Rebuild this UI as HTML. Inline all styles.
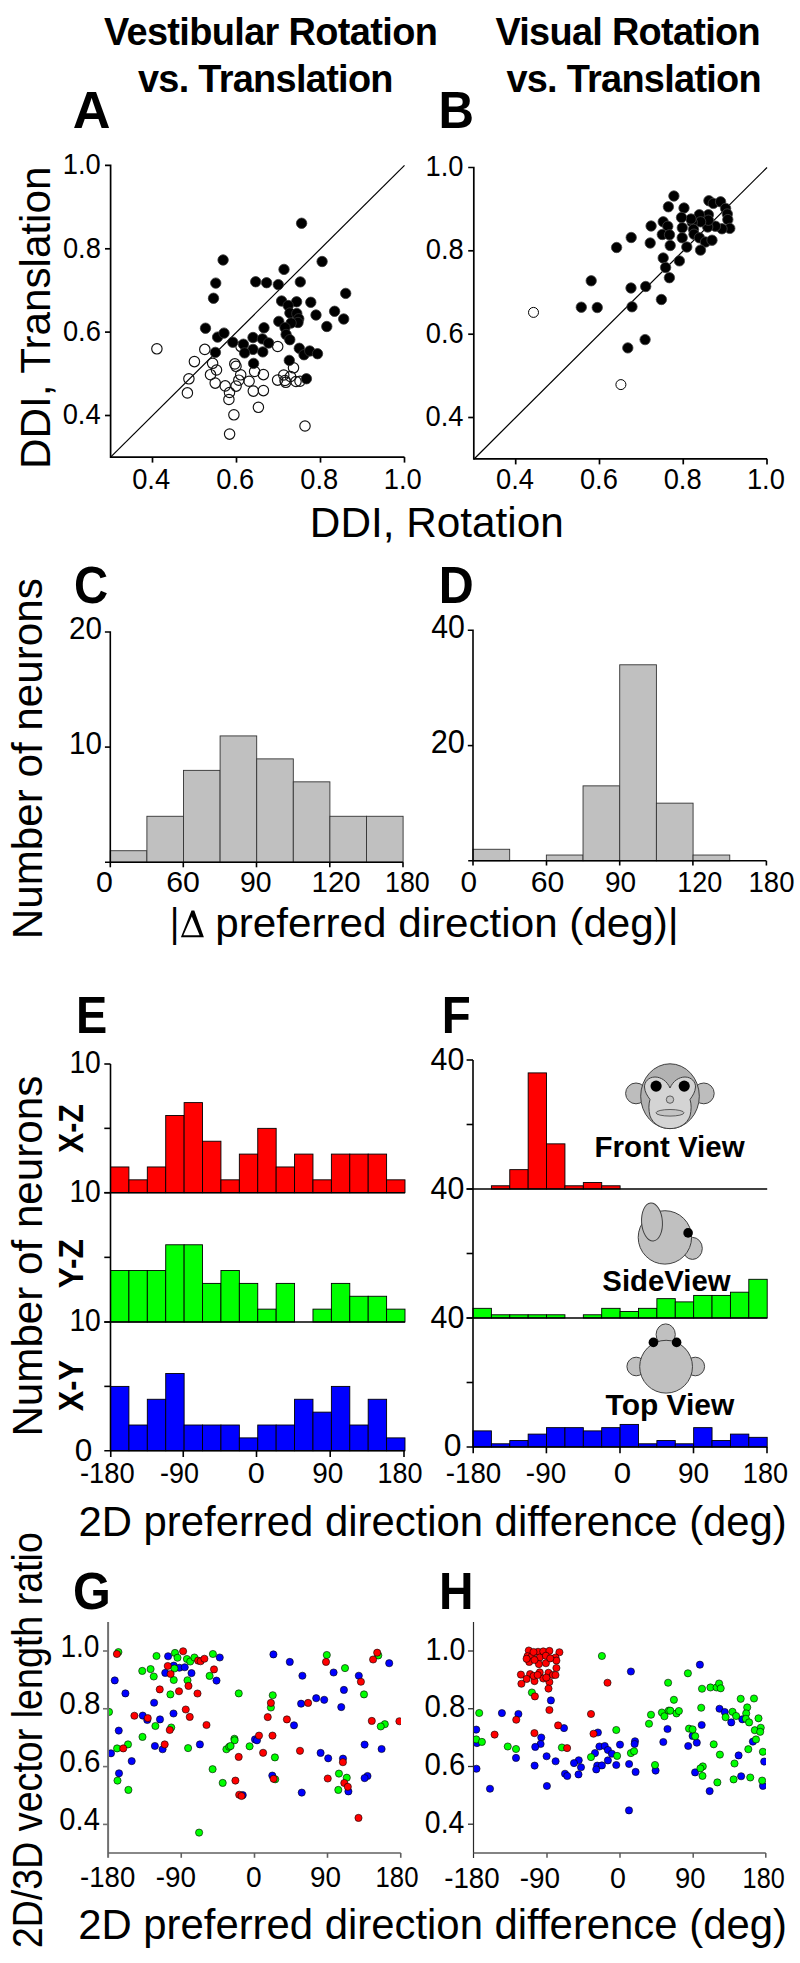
<!DOCTYPE html>
<html><head><meta charset="utf-8"><style>
html,body{margin:0;padding:0;background:#fff;}
svg{display:block;}
text{font-family:"Liberation Sans",sans-serif;}
</style></head><body>
<svg width="800" height="1963" viewBox="0 0 800 1963">
<rect width="800" height="1963" fill="#fff"/>
<text transform="translate(103.91,45.25) scale(0.9600,1)" font-family="Liberation Sans" font-weight="bold" font-size="39.5" letter-spacing="-0.665" fill="#000">Vestibular Rotation</text>
<text transform="translate(137.91,91.5) scale(0.9600,1)" font-family="Liberation Sans" font-weight="bold" font-size="39.5" letter-spacing="-0.731" fill="#000">vs. Translation</text>
<text transform="translate(495.41,45.25) scale(0.9600,1)" font-family="Liberation Sans" font-weight="bold" font-size="39.5" letter-spacing="-0.739" fill="#000">Visual Rotation</text>
<text transform="translate(506.41,91.5) scale(0.9600,1)" font-family="Liberation Sans" font-weight="bold" font-size="39.5" letter-spacing="-0.757" fill="#000">vs. Translation</text>
<text transform="translate(72.69,128.2) scale(1.0183,1)" font-family="Liberation Sans" font-weight="bold" font-size="51.3" fill="#000">A</text>
<text transform="translate(438.6,128.2) scale(0.9587,1)" font-family="Liberation Sans" font-weight="bold" font-size="51.3" fill="#000">B</text>
<text transform="translate(74.11,603.3) scale(0.9226,1)" font-family="Liberation Sans" font-weight="bold" font-size="51.3" fill="#000">C</text>
<text transform="translate(438.85,603.2) scale(0.9445,1)" font-family="Liberation Sans" font-weight="bold" font-size="51.3" fill="#000">D</text>
<text transform="translate(75.95,1033.2) scale(0.9143,1)" font-family="Liberation Sans" font-weight="bold" font-size="51.3" fill="#000">E</text>
<text transform="translate(441.72,1033.2) scale(0.9250,1)" font-family="Liberation Sans" font-weight="bold" font-size="51.3" fill="#000">F</text>
<text transform="translate(73.06,1608.6) scale(0.9472,1)" font-family="Liberation Sans" font-weight="bold" font-size="51.3" fill="#000">G</text>
<text transform="translate(438.89,1608.7) scale(0.9317,1)" font-family="Liberation Sans" font-weight="bold" font-size="51.3" fill="#000">H</text>
<path d="M105.0,165.4H110.6V457.1H404.5" stroke="#000" stroke-width="1.7" fill="none" fill-rule="evenodd"/>
<line x1="105" y1="248.8" x2="110.6" y2="248.8" stroke="#000" stroke-width="1.7"/>
<line x1="105" y1="332.1" x2="110.6" y2="332.1" stroke="#000" stroke-width="1.7"/>
<line x1="105" y1="415.5" x2="110.6" y2="415.5" stroke="#000" stroke-width="1.7"/>
<line x1="152.5" y1="457.1" x2="152.5" y2="462.6" stroke="#000" stroke-width="1.7"/>
<line x1="236.5" y1="457.1" x2="236.5" y2="462.6" stroke="#000" stroke-width="1.7"/>
<line x1="320.5" y1="457.1" x2="320.5" y2="462.6" stroke="#000" stroke-width="1.7"/>
<line x1="404.5" y1="457.1" x2="404.5" y2="462.6" stroke="#000" stroke-width="1.7"/>
<line x1="110.6" y1="457.1" x2="404.5" y2="165.4" stroke="#000" stroke-width="1.2"/>
<text transform="translate(62.81,174.1) scale(0.9100,1)" font-family="Liberation Sans" font-weight="normal" font-size="30" fill="#000">1.0</text>
<text transform="translate(62.94,257.5) scale(0.9100,1)" font-family="Liberation Sans" font-weight="normal" font-size="30" fill="#000">0.8</text>
<text transform="translate(62.94,340.8) scale(0.9100,1)" font-family="Liberation Sans" font-weight="normal" font-size="30" fill="#000">0.6</text>
<text transform="translate(62.67,424.2) scale(0.9100,1)" font-family="Liberation Sans" font-weight="normal" font-size="30" fill="#000">0.4</text>
<text transform="translate(132.19,489) scale(0.9100,1)" font-family="Liberation Sans" font-weight="normal" font-size="30" fill="#000">0.4</text>
<text transform="translate(216.33,489) scale(0.9100,1)" font-family="Liberation Sans" font-weight="normal" font-size="30" fill="#000">0.6</text>
<text transform="translate(300.33,489) scale(0.9100,1)" font-family="Liberation Sans" font-weight="normal" font-size="30" fill="#000">0.8</text>
<text transform="translate(383.78,489) scale(0.9100,1)" font-family="Liberation Sans" font-weight="normal" font-size="30" fill="#000">1.0</text>
<circle cx="156.9" cy="348.8" r="5.2" fill="none" stroke="#111" stroke-width="1.15"/>
<circle cx="204.8" cy="349.4" r="5.2" fill="none" stroke="#111" stroke-width="1.15"/>
<circle cx="194.4" cy="361.6" r="5.2" fill="none" stroke="#111" stroke-width="1.15"/>
<circle cx="212.6" cy="363.3" r="5.2" fill="none" stroke="#111" stroke-width="1.15"/>
<circle cx="216.5" cy="370" r="5.2" fill="none" stroke="#111" stroke-width="1.15"/>
<circle cx="210.5" cy="374.7" r="5.2" fill="none" stroke="#111" stroke-width="1.15"/>
<circle cx="188.9" cy="378.8" r="5.2" fill="none" stroke="#111" stroke-width="1.15"/>
<circle cx="215.2" cy="383.1" r="5.2" fill="none" stroke="#111" stroke-width="1.15"/>
<circle cx="187.4" cy="392.9" r="5.2" fill="none" stroke="#111" stroke-width="1.15"/>
<circle cx="234.8" cy="363.9" r="5.2" fill="none" stroke="#111" stroke-width="1.15"/>
<circle cx="236" cy="366.3" r="5.2" fill="none" stroke="#111" stroke-width="1.15"/>
<circle cx="240.7" cy="374.8" r="5.2" fill="none" stroke="#111" stroke-width="1.15"/>
<circle cx="238.8" cy="380.2" r="5.2" fill="none" stroke="#111" stroke-width="1.15"/>
<circle cx="236.1" cy="386.1" r="5.2" fill="none" stroke="#111" stroke-width="1.15"/>
<circle cx="225.2" cy="385.9" r="5.2" fill="none" stroke="#111" stroke-width="1.15"/>
<circle cx="229.5" cy="392.5" r="5.2" fill="none" stroke="#111" stroke-width="1.15"/>
<circle cx="228.9" cy="399.5" r="5.2" fill="none" stroke="#111" stroke-width="1.15"/>
<circle cx="233.9" cy="414.8" r="5.2" fill="none" stroke="#111" stroke-width="1.15"/>
<circle cx="229.6" cy="434.1" r="5.2" fill="none" stroke="#111" stroke-width="1.15"/>
<circle cx="249.1" cy="381.25" r="5.2" fill="none" stroke="#111" stroke-width="1.15"/>
<circle cx="254.6" cy="371.5" r="5.2" fill="none" stroke="#111" stroke-width="1.15"/>
<circle cx="263.4" cy="374.6" r="5.2" fill="none" stroke="#111" stroke-width="1.15"/>
<circle cx="253.3" cy="391.1" r="5.2" fill="none" stroke="#111" stroke-width="1.15"/>
<circle cx="263.4" cy="390.6" r="5.2" fill="none" stroke="#111" stroke-width="1.15"/>
<circle cx="258.4" cy="407.3" r="5.2" fill="none" stroke="#111" stroke-width="1.15"/>
<circle cx="277.7" cy="346.5" r="5.2" fill="none" stroke="#111" stroke-width="1.15"/>
<circle cx="293.5" cy="367.8" r="5.2" fill="none" stroke="#111" stroke-width="1.15"/>
<circle cx="277.6" cy="380.1" r="5.2" fill="none" stroke="#111" stroke-width="1.15"/>
<circle cx="283.75" cy="375" r="5.2" fill="none" stroke="#111" stroke-width="1.15"/>
<circle cx="285" cy="380.5" r="5.2" fill="none" stroke="#111" stroke-width="1.15"/>
<circle cx="285.8" cy="382.3" r="5.2" fill="none" stroke="#111" stroke-width="1.15"/>
<circle cx="290.5" cy="376.5" r="5.2" fill="none" stroke="#111" stroke-width="1.15"/>
<circle cx="296" cy="381.5" r="5.2" fill="none" stroke="#111" stroke-width="1.15"/>
<circle cx="300" cy="381.25" r="5.2" fill="none" stroke="#111" stroke-width="1.15"/>
<circle cx="305" cy="426" r="5.2" fill="none" stroke="#111" stroke-width="1.15"/>
<circle cx="241" cy="346.6" r="5.2" fill="none" stroke="#111" stroke-width="1.15"/>
<circle cx="223.1" cy="260.0" r="5.2" fill="#000" stroke="#333" stroke-width="0.8"/>
<circle cx="215.75" cy="283.1" r="5.2" fill="#000" stroke="#333" stroke-width="0.8"/>
<circle cx="213.5" cy="298.25" r="5.2" fill="#000" stroke="#333" stroke-width="0.8"/>
<circle cx="255.7" cy="281.75" r="5.2" fill="#000" stroke="#333" stroke-width="0.8"/>
<circle cx="266.6" cy="282.7" r="5.2" fill="#000" stroke="#333" stroke-width="0.8"/>
<circle cx="278.3" cy="284.6" r="5.2" fill="#000" stroke="#333" stroke-width="0.8"/>
<circle cx="284" cy="269.4" r="5.2" fill="#000" stroke="#333" stroke-width="0.8"/>
<circle cx="301.6" cy="223.25" r="5.2" fill="#000" stroke="#333" stroke-width="0.8"/>
<circle cx="322.1" cy="261.5" r="5.2" fill="#000" stroke="#333" stroke-width="0.8"/>
<circle cx="300.3" cy="281.9" r="5.2" fill="#000" stroke="#333" stroke-width="0.8"/>
<circle cx="345.7" cy="293.4" r="5.2" fill="#000" stroke="#333" stroke-width="0.8"/>
<circle cx="281.6" cy="301" r="5.2" fill="#000" stroke="#333" stroke-width="0.8"/>
<circle cx="296.6" cy="301.8" r="5.2" fill="#000" stroke="#333" stroke-width="0.8"/>
<circle cx="310.8" cy="302.3" r="5.2" fill="#000" stroke="#333" stroke-width="0.8"/>
<circle cx="288.2" cy="305.5" r="5.2" fill="#000" stroke="#333" stroke-width="0.8"/>
<circle cx="289.9" cy="313" r="5.2" fill="#000" stroke="#333" stroke-width="0.8"/>
<circle cx="296.8" cy="313.5" r="5.2" fill="#000" stroke="#333" stroke-width="0.8"/>
<circle cx="298.75" cy="318.75" r="5.2" fill="#000" stroke="#333" stroke-width="0.8"/>
<circle cx="298" cy="322.5" r="5.2" fill="#000" stroke="#333" stroke-width="0.8"/>
<circle cx="291.1" cy="323" r="5.2" fill="#000" stroke="#333" stroke-width="0.8"/>
<circle cx="316" cy="315" r="5.2" fill="#000" stroke="#333" stroke-width="0.8"/>
<circle cx="334.6" cy="311.3" r="5.2" fill="#000" stroke="#333" stroke-width="0.8"/>
<circle cx="343.7" cy="319" r="5.2" fill="#000" stroke="#333" stroke-width="0.8"/>
<circle cx="326.8" cy="326.5" r="5.2" fill="#000" stroke="#333" stroke-width="0.8"/>
<circle cx="278.8" cy="321.4" r="5.2" fill="#000" stroke="#333" stroke-width="0.8"/>
<circle cx="264" cy="327.8" r="5.2" fill="#000" stroke="#333" stroke-width="0.8"/>
<circle cx="285" cy="327.6" r="5.2" fill="#000" stroke="#333" stroke-width="0.8"/>
<circle cx="286.1" cy="334.5" r="5.2" fill="#000" stroke="#333" stroke-width="0.8"/>
<circle cx="289.8" cy="339.7" r="5.2" fill="#000" stroke="#333" stroke-width="0.8"/>
<circle cx="253" cy="337.5" r="5.2" fill="#000" stroke="#333" stroke-width="0.8"/>
<circle cx="262.4" cy="338.9" r="5.2" fill="#000" stroke="#333" stroke-width="0.8"/>
<circle cx="268.6" cy="343" r="5.2" fill="#000" stroke="#333" stroke-width="0.8"/>
<circle cx="253" cy="349.4" r="5.2" fill="#000" stroke="#333" stroke-width="0.8"/>
<circle cx="262.8" cy="351.9" r="5.2" fill="#000" stroke="#333" stroke-width="0.8"/>
<circle cx="299.3" cy="348.3" r="5.2" fill="#000" stroke="#333" stroke-width="0.8"/>
<circle cx="304" cy="354.75" r="5.2" fill="#000" stroke="#333" stroke-width="0.8"/>
<circle cx="309.7" cy="351" r="5.2" fill="#000" stroke="#333" stroke-width="0.8"/>
<circle cx="317.5" cy="353.7" r="5.2" fill="#000" stroke="#333" stroke-width="0.8"/>
<circle cx="289.3" cy="360.4" r="5.2" fill="#000" stroke="#333" stroke-width="0.8"/>
<circle cx="253.6" cy="363.4" r="5.2" fill="#000" stroke="#333" stroke-width="0.8"/>
<circle cx="306.4" cy="378.75" r="5.2" fill="#000" stroke="#333" stroke-width="0.8"/>
<circle cx="205.5" cy="328.2" r="5.2" fill="#000" stroke="#333" stroke-width="0.8"/>
<circle cx="217.6" cy="337.1" r="5.2" fill="#000" stroke="#333" stroke-width="0.8"/>
<circle cx="224" cy="333.1" r="5.2" fill="#000" stroke="#333" stroke-width="0.8"/>
<circle cx="232.8" cy="342.2" r="5.2" fill="#000" stroke="#333" stroke-width="0.8"/>
<circle cx="243.4" cy="344.2" r="5.2" fill="#000" stroke="#333" stroke-width="0.8"/>
<circle cx="244.6" cy="352.9" r="5.2" fill="#000" stroke="#333" stroke-width="0.8"/>
<circle cx="215.4" cy="352.4" r="5.2" fill="#000" stroke="#333" stroke-width="0.8"/>
<text transform="translate(49.75,468.97) rotate(-90) scale(0.9924,1)" font-family="Liberation Sans" font-weight="normal" font-size="42.5">DDI, Translation</text>
<text transform="translate(309.86,537.1) scale(0.9956,1)" font-family="Liberation Sans" font-weight="normal" font-size="42.5" fill="#000">DDI, Rotation</text>
<path d="M468.2,167.5H473.8V458.8H767" stroke="#000" stroke-width="1.7" fill="none" fill-rule="evenodd"/>
<line x1="468.2" y1="250.8" x2="473.8" y2="250.8" stroke="#000" stroke-width="1.7"/>
<line x1="468.2" y1="334.2" x2="473.8" y2="334.2" stroke="#000" stroke-width="1.7"/>
<line x1="468.2" y1="417.5" x2="473.8" y2="417.5" stroke="#000" stroke-width="1.7"/>
<line x1="515.7" y1="458.8" x2="515.7" y2="464.4" stroke="#000" stroke-width="1.7"/>
<line x1="599.5" y1="458.8" x2="599.5" y2="464.4" stroke="#000" stroke-width="1.7"/>
<line x1="683.25" y1="458.8" x2="683.25" y2="464.4" stroke="#000" stroke-width="1.7"/>
<line x1="767" y1="458.8" x2="767" y2="464.4" stroke="#000" stroke-width="1.7"/>
<line x1="473.8" y1="459.2" x2="767" y2="167.5" stroke="#000" stroke-width="1.2"/>
<text transform="translate(425.61,175.9) scale(0.9100,1)" font-family="Liberation Sans" font-weight="normal" font-size="30" fill="#000">1.0</text>
<text transform="translate(425.75,259.2) scale(0.9100,1)" font-family="Liberation Sans" font-weight="normal" font-size="30" fill="#000">0.8</text>
<text transform="translate(425.75,342.6) scale(0.9100,1)" font-family="Liberation Sans" font-weight="normal" font-size="30" fill="#000">0.6</text>
<text transform="translate(425.47,425.9) scale(0.9100,1)" font-family="Liberation Sans" font-weight="normal" font-size="30" fill="#000">0.4</text>
<text transform="translate(495.99,489.3) scale(0.9100,1)" font-family="Liberation Sans" font-weight="normal" font-size="30" fill="#000">0.4</text>
<text transform="translate(579.93,489.3) scale(0.9100,1)" font-family="Liberation Sans" font-weight="normal" font-size="30" fill="#000">0.6</text>
<text transform="translate(663.68,489.3) scale(0.9100,1)" font-family="Liberation Sans" font-weight="normal" font-size="30" fill="#000">0.8</text>
<text transform="translate(746.88,489.3) scale(0.9100,1)" font-family="Liberation Sans" font-weight="normal" font-size="30" fill="#000">1.0</text>
<circle cx="533.5" cy="312.4" r="5.0" fill="none" stroke="#000" stroke-width="1.0"/>
<circle cx="620.9" cy="384.6" r="5.0" fill="none" stroke="#000" stroke-width="1.0"/>
<circle cx="673.9" cy="196" r="5.2" fill="#000" stroke="#444" stroke-width="0.8"/>
<circle cx="668.4" cy="206.8" r="5.2" fill="#000" stroke="#444" stroke-width="0.8"/>
<circle cx="684" cy="208" r="5.2" fill="#000" stroke="#444" stroke-width="0.8"/>
<circle cx="708.9" cy="200.7" r="5.2" fill="#000" stroke="#444" stroke-width="0.8"/>
<circle cx="713.3" cy="203.4" r="5.2" fill="#000" stroke="#444" stroke-width="0.8"/>
<circle cx="720.6" cy="201.8" r="5.2" fill="#000" stroke="#444" stroke-width="0.8"/>
<circle cx="725.6" cy="208.4" r="5.2" fill="#000" stroke="#444" stroke-width="0.8"/>
<circle cx="727.3" cy="214" r="5.2" fill="#000" stroke="#444" stroke-width="0.8"/>
<circle cx="727.8" cy="219.6" r="5.2" fill="#000" stroke="#444" stroke-width="0.8"/>
<circle cx="729.8" cy="228.4" r="5.2" fill="#000" stroke="#444" stroke-width="0.8"/>
<circle cx="722" cy="228.8" r="5.2" fill="#000" stroke="#444" stroke-width="0.8"/>
<circle cx="715.4" cy="226.2" r="5.2" fill="#000" stroke="#444" stroke-width="0.8"/>
<circle cx="707.7" cy="227" r="5.2" fill="#000" stroke="#444" stroke-width="0.8"/>
<circle cx="708.4" cy="214.7" r="5.2" fill="#000" stroke="#444" stroke-width="0.8"/>
<circle cx="708.4" cy="220.2" r="5.2" fill="#000" stroke="#444" stroke-width="0.8"/>
<circle cx="699.3" cy="214.7" r="5.2" fill="#000" stroke="#444" stroke-width="0.8"/>
<circle cx="700.6" cy="221.8" r="5.2" fill="#000" stroke="#444" stroke-width="0.8"/>
<circle cx="692.2" cy="222.4" r="5.2" fill="#000" stroke="#444" stroke-width="0.8"/>
<circle cx="691" cy="219" r="5.2" fill="#000" stroke="#444" stroke-width="0.8"/>
<circle cx="681.5" cy="217.5" r="5.2" fill="#000" stroke="#444" stroke-width="0.8"/>
<circle cx="682.3" cy="227.8" r="5.2" fill="#000" stroke="#444" stroke-width="0.8"/>
<circle cx="682.2" cy="237.8" r="5.2" fill="#000" stroke="#444" stroke-width="0.8"/>
<circle cx="693.5" cy="229.4" r="5.2" fill="#000" stroke="#444" stroke-width="0.8"/>
<circle cx="694" cy="234.2" r="5.2" fill="#000" stroke="#444" stroke-width="0.8"/>
<circle cx="699.4" cy="237.8" r="5.2" fill="#000" stroke="#444" stroke-width="0.8"/>
<circle cx="705.5" cy="242" r="5.2" fill="#000" stroke="#444" stroke-width="0.8"/>
<circle cx="712" cy="240.2" r="5.2" fill="#000" stroke="#444" stroke-width="0.8"/>
<circle cx="700.5" cy="250.1" r="5.2" fill="#000" stroke="#444" stroke-width="0.8"/>
<circle cx="686.8" cy="247" r="5.2" fill="#000" stroke="#444" stroke-width="0.8"/>
<circle cx="663.2" cy="221.8" r="5.2" fill="#000" stroke="#444" stroke-width="0.8"/>
<circle cx="667.8" cy="226.3" r="5.2" fill="#000" stroke="#444" stroke-width="0.8"/>
<circle cx="662.3" cy="234.5" r="5.2" fill="#000" stroke="#444" stroke-width="0.8"/>
<circle cx="669.5" cy="234.8" r="5.2" fill="#000" stroke="#444" stroke-width="0.8"/>
<circle cx="670.2" cy="245.5" r="5.2" fill="#000" stroke="#444" stroke-width="0.8"/>
<circle cx="651.1" cy="226" r="5.2" fill="#000" stroke="#444" stroke-width="0.8"/>
<circle cx="650.2" cy="243" r="5.2" fill="#000" stroke="#444" stroke-width="0.8"/>
<circle cx="663.2" cy="258" r="5.2" fill="#000" stroke="#444" stroke-width="0.8"/>
<circle cx="665.6" cy="267.5" r="5.2" fill="#000" stroke="#444" stroke-width="0.8"/>
<circle cx="679.4" cy="260.9" r="5.2" fill="#000" stroke="#444" stroke-width="0.8"/>
<circle cx="669.4" cy="277.7" r="5.2" fill="#000" stroke="#444" stroke-width="0.8"/>
<circle cx="645.7" cy="286.5" r="5.2" fill="#000" stroke="#444" stroke-width="0.8"/>
<circle cx="661.4" cy="299.5" r="5.2" fill="#000" stroke="#444" stroke-width="0.8"/>
<circle cx="631.2" cy="237.5" r="5.2" fill="#000" stroke="#444" stroke-width="0.8"/>
<circle cx="616.6" cy="247.5" r="5.2" fill="#000" stroke="#444" stroke-width="0.8"/>
<circle cx="591.2" cy="280.8" r="5.2" fill="#000" stroke="#444" stroke-width="0.8"/>
<circle cx="581.3" cy="307.2" r="5.2" fill="#000" stroke="#444" stroke-width="0.8"/>
<circle cx="597.25" cy="307.55" r="5.2" fill="#000" stroke="#444" stroke-width="0.8"/>
<circle cx="631" cy="288" r="5.2" fill="#000" stroke="#444" stroke-width="0.8"/>
<circle cx="632" cy="306.8" r="5.2" fill="#000" stroke="#444" stroke-width="0.8"/>
<circle cx="645.1" cy="339.6" r="5.2" fill="#000" stroke="#444" stroke-width="0.8"/>
<circle cx="627.8" cy="347.9" r="5.2" fill="#000" stroke="#444" stroke-width="0.8"/>
<rect x="110.3" y="850.72" width="36.6" height="11.48" fill="#c0c0c0" stroke="#333" stroke-width="0.9"/>
<rect x="146.9" y="816.28" width="36.6" height="45.92" fill="#c0c0c0" stroke="#333" stroke-width="0.9"/>
<rect x="183.5" y="770.36" width="36.6" height="91.84" fill="#c0c0c0" stroke="#333" stroke-width="0.9"/>
<rect x="220.1" y="735.92" width="36.6" height="126.28" fill="#c0c0c0" stroke="#333" stroke-width="0.9"/>
<rect x="256.7" y="758.88" width="36.6" height="103.32" fill="#c0c0c0" stroke="#333" stroke-width="0.9"/>
<rect x="293.3" y="781.84" width="36.6" height="80.36" fill="#c0c0c0" stroke="#333" stroke-width="0.9"/>
<rect x="329.9" y="816.28" width="36.6" height="45.92" fill="#c0c0c0" stroke="#333" stroke-width="0.9"/>
<rect x="366.5" y="816.28" width="36.6" height="45.92" fill="#c0c0c0" stroke="#333" stroke-width="0.9"/>
<path d="M104.89999999999999,632H110.3V862.2" stroke="#000" stroke-width="1.6" fill="none" fill-rule="evenodd"/>
<line x1="104.9" y1="747.1" x2="110.3" y2="747.1" stroke="#000" stroke-width="1.6"/>
<line x1="105" y1="862.2" x2="403.1" y2="862.2" stroke="#000" stroke-width="1.6"/>
<line x1="110.3" y1="862.2" x2="110.3" y2="867.3" stroke="#000" stroke-width="1.6"/>
<line x1="183.3" y1="862.2" x2="183.3" y2="867.3" stroke="#000" stroke-width="1.6"/>
<line x1="256.5" y1="862.2" x2="256.5" y2="867.3" stroke="#000" stroke-width="1.6"/>
<line x1="329.8" y1="862.2" x2="329.8" y2="867.3" stroke="#000" stroke-width="1.6"/>
<line x1="403" y1="862.2" x2="403" y2="867.3" stroke="#000" stroke-width="1.6"/>
<text transform="translate(69.05,638.95) scale(0.9200,1)" font-family="Liberation Sans" font-weight="normal" font-size="32.2" fill="#000">20</text>
<text transform="translate(69.05,754.3) scale(0.9200,1)" font-family="Liberation Sans" font-weight="normal" font-size="32.2" fill="#000">10</text>
<text transform="translate(95.99,891.7) scale(1.0104,1)" font-family="Liberation Sans" font-weight="normal" font-size="30" fill="#000">0</text>
<text transform="translate(166.19,891.7) scale(1.0098,1)" font-family="Liberation Sans" font-weight="normal" font-size="30" fill="#000">60</text>
<text transform="translate(239.97,891.7) scale(0.9466,1)" font-family="Liberation Sans" font-weight="normal" font-size="30" fill="#000">90</text>
<text transform="translate(311.54,891.7) scale(0.9807,1)" font-family="Liberation Sans" font-weight="normal" font-size="30" fill="#000">120</text>
<text transform="translate(384.99,891.7) scale(0.8950,1)" font-family="Liberation Sans" font-weight="normal" font-size="30" fill="#000">180</text>
<rect x="473" y="849.27" width="36.68" height="11.53" fill="#c0c0c0" stroke="#333" stroke-width="0.9"/>
<rect x="546.36" y="855.03" width="36.68" height="5.76" fill="#c0c0c0" stroke="#333" stroke-width="0.9"/>
<rect x="583.04" y="785.86" width="36.68" height="74.94" fill="#c0c0c0" stroke="#333" stroke-width="0.9"/>
<rect x="619.72" y="664.79" width="36.68" height="196.01" fill="#c0c0c0" stroke="#333" stroke-width="0.9"/>
<rect x="656.4" y="803.15" width="36.68" height="57.65" fill="#c0c0c0" stroke="#333" stroke-width="0.9"/>
<rect x="693.08" y="855.03" width="36.68" height="5.76" fill="#c0c0c0" stroke="#333" stroke-width="0.9"/>
<path d="M467.8,630.3H473.0V860.8" stroke="#000" stroke-width="1.6" fill="none" fill-rule="evenodd"/>
<line x1="467.8" y1="745.6" x2="473" y2="745.6" stroke="#000" stroke-width="1.6"/>
<line x1="468.2" y1="860.8" x2="766.4" y2="860.8" stroke="#000" stroke-width="1.6"/>
<line x1="473" y1="860.8" x2="473" y2="865.5" stroke="#000" stroke-width="1.6"/>
<line x1="546.5" y1="860.8" x2="546.5" y2="865.5" stroke="#000" stroke-width="1.6"/>
<line x1="619.7" y1="860.8" x2="619.7" y2="865.5" stroke="#000" stroke-width="1.6"/>
<line x1="692.9" y1="860.8" x2="692.9" y2="865.5" stroke="#000" stroke-width="1.6"/>
<line x1="766.4" y1="860.8" x2="766.4" y2="865.5" stroke="#000" stroke-width="1.6"/>
<text transform="translate(431.19,637.5) scale(0.9347,1)" font-family="Liberation Sans" font-weight="normal" font-size="32.4" fill="#000">40</text>
<text transform="translate(430.71,752.9) scale(0.9485,1)" font-family="Liberation Sans" font-weight="normal" font-size="32.4" fill="#000">20</text>
<text transform="translate(460.56,891.8) scale(0.9896,1)" font-family="Liberation Sans" font-weight="normal" font-size="30" fill="#000">0</text>
<text transform="translate(530.74,891.8) scale(1.0098,1)" font-family="Liberation Sans" font-weight="normal" font-size="30" fill="#000">60</text>
<text transform="translate(605.04,891.8) scale(0.9320,1)" font-family="Liberation Sans" font-weight="normal" font-size="30" fill="#000">90</text>
<text transform="translate(677.17,891.8) scale(0.9003,1)" font-family="Liberation Sans" font-weight="normal" font-size="30" fill="#000">120</text>
<text transform="translate(748.54,891.8) scale(0.9175,1)" font-family="Liberation Sans" font-weight="normal" font-size="30" fill="#000">180</text>
<text transform="translate(42.2,939.27) rotate(-90) scale(0.9926,1)" font-family="Liberation Sans" font-weight="normal" font-size="42.5">Number of neurons</text>
<text transform="translate(169.94,937.1) scale(0.8689,1)" font-family="Liberation Sans" font-weight="normal" font-size="41" fill="#000">|</text>
<path d="M180.9,937.3 L191.5,910.6 L194.3,910.6 L203.9,937.3 Z M183.4,935.3 L199.6,935.3 L191.8,916.6 Z" stroke="#000" stroke-width="0" fill="#000" fill-rule="evenodd"/>
<text transform="translate(215.26,937.1) scale(1.0292,1)" font-family="Liberation Sans" font-weight="normal" font-size="41" fill="#000">preferred direction (deg)|</text>
<rect x="110.5" y="1166.96" width="18.41" height="25.74" fill="#ff0000" stroke="#000" stroke-width="0.9"/>
<rect x="128.91" y="1179.83" width="18.41" height="12.87" fill="#ff0000" stroke="#000" stroke-width="0.9"/>
<rect x="147.31" y="1166.96" width="18.41" height="25.74" fill="#ff0000" stroke="#000" stroke-width="0.9"/>
<rect x="165.72" y="1115.48" width="18.41" height="77.22" fill="#ff0000" stroke="#000" stroke-width="0.9"/>
<rect x="184.12" y="1102.61" width="18.41" height="90.09" fill="#ff0000" stroke="#000" stroke-width="0.9"/>
<rect x="202.53" y="1141.22" width="18.41" height="51.48" fill="#ff0000" stroke="#000" stroke-width="0.9"/>
<rect x="220.94" y="1179.83" width="18.41" height="12.87" fill="#ff0000" stroke="#000" stroke-width="0.9"/>
<rect x="239.34" y="1154.09" width="18.41" height="38.61" fill="#ff0000" stroke="#000" stroke-width="0.9"/>
<rect x="257.75" y="1128.35" width="18.41" height="64.35" fill="#ff0000" stroke="#000" stroke-width="0.9"/>
<rect x="276.16" y="1166.96" width="18.41" height="25.74" fill="#ff0000" stroke="#000" stroke-width="0.9"/>
<rect x="294.56" y="1154.09" width="18.41" height="38.61" fill="#ff0000" stroke="#000" stroke-width="0.9"/>
<rect x="312.97" y="1179.83" width="18.41" height="12.87" fill="#ff0000" stroke="#000" stroke-width="0.9"/>
<rect x="331.38" y="1154.09" width="18.41" height="38.61" fill="#ff0000" stroke="#000" stroke-width="0.9"/>
<rect x="349.78" y="1154.09" width="18.41" height="38.61" fill="#ff0000" stroke="#000" stroke-width="0.9"/>
<rect x="368.19" y="1154.09" width="18.41" height="38.61" fill="#ff0000" stroke="#000" stroke-width="0.9"/>
<rect x="386.59" y="1179.83" width="18.41" height="12.87" fill="#ff0000" stroke="#000" stroke-width="0.9"/>
<rect x="110.5" y="1270.52" width="18.41" height="51.48" fill="#00ff00" stroke="#000" stroke-width="0.9"/>
<rect x="128.91" y="1270.52" width="18.41" height="51.48" fill="#00ff00" stroke="#000" stroke-width="0.9"/>
<rect x="147.31" y="1270.52" width="18.41" height="51.48" fill="#00ff00" stroke="#000" stroke-width="0.9"/>
<rect x="165.72" y="1244.78" width="18.41" height="77.22" fill="#00ff00" stroke="#000" stroke-width="0.9"/>
<rect x="184.12" y="1244.78" width="18.41" height="77.22" fill="#00ff00" stroke="#000" stroke-width="0.9"/>
<rect x="202.53" y="1283.39" width="18.41" height="38.61" fill="#00ff00" stroke="#000" stroke-width="0.9"/>
<rect x="220.94" y="1270.52" width="18.41" height="51.48" fill="#00ff00" stroke="#000" stroke-width="0.9"/>
<rect x="239.34" y="1283.39" width="18.41" height="38.61" fill="#00ff00" stroke="#000" stroke-width="0.9"/>
<rect x="257.75" y="1309.13" width="18.41" height="12.87" fill="#00ff00" stroke="#000" stroke-width="0.9"/>
<rect x="276.16" y="1283.39" width="18.41" height="38.61" fill="#00ff00" stroke="#000" stroke-width="0.9"/>
<rect x="312.97" y="1309.13" width="18.41" height="12.87" fill="#00ff00" stroke="#000" stroke-width="0.9"/>
<rect x="331.38" y="1283.39" width="18.41" height="38.61" fill="#00ff00" stroke="#000" stroke-width="0.9"/>
<rect x="349.78" y="1296.26" width="18.41" height="25.74" fill="#00ff00" stroke="#000" stroke-width="0.9"/>
<rect x="368.19" y="1296.26" width="18.41" height="25.74" fill="#00ff00" stroke="#000" stroke-width="0.9"/>
<rect x="386.59" y="1309.13" width="18.41" height="12.87" fill="#00ff00" stroke="#000" stroke-width="0.9"/>
<rect x="110.5" y="1386.4" width="18.41" height="64.35" fill="#0000ff" stroke="#000" stroke-width="0.9"/>
<rect x="128.91" y="1425.01" width="18.41" height="25.74" fill="#0000ff" stroke="#000" stroke-width="0.9"/>
<rect x="147.31" y="1399.27" width="18.41" height="51.48" fill="#0000ff" stroke="#000" stroke-width="0.9"/>
<rect x="165.72" y="1373.53" width="18.41" height="77.22" fill="#0000ff" stroke="#000" stroke-width="0.9"/>
<rect x="184.12" y="1425.01" width="18.41" height="25.74" fill="#0000ff" stroke="#000" stroke-width="0.9"/>
<rect x="202.53" y="1425.01" width="18.41" height="25.74" fill="#0000ff" stroke="#000" stroke-width="0.9"/>
<rect x="220.94" y="1425.01" width="18.41" height="25.74" fill="#0000ff" stroke="#000" stroke-width="0.9"/>
<rect x="239.34" y="1437.88" width="18.41" height="12.87" fill="#0000ff" stroke="#000" stroke-width="0.9"/>
<rect x="257.75" y="1425.01" width="18.41" height="25.74" fill="#0000ff" stroke="#000" stroke-width="0.9"/>
<rect x="276.16" y="1425.01" width="18.41" height="25.74" fill="#0000ff" stroke="#000" stroke-width="0.9"/>
<rect x="294.56" y="1399.27" width="18.41" height="51.48" fill="#0000ff" stroke="#000" stroke-width="0.9"/>
<rect x="312.97" y="1412.14" width="18.41" height="38.61" fill="#0000ff" stroke="#000" stroke-width="0.9"/>
<rect x="331.38" y="1386.4" width="18.41" height="64.35" fill="#0000ff" stroke="#000" stroke-width="0.9"/>
<rect x="349.78" y="1425.01" width="18.41" height="25.74" fill="#0000ff" stroke="#000" stroke-width="0.9"/>
<rect x="368.19" y="1399.27" width="18.41" height="51.48" fill="#0000ff" stroke="#000" stroke-width="0.9"/>
<rect x="386.59" y="1437.88" width="18.41" height="12.87" fill="#0000ff" stroke="#000" stroke-width="0.9"/>
<line x1="110.5" y1="1064" x2="110.5" y2="1450.75" stroke="#000" stroke-width="1.6"/>
<line x1="104.3" y1="1064" x2="110.5" y2="1064" stroke="#000" stroke-width="1.6"/>
<line x1="104.3" y1="1192.7" x2="110.5" y2="1192.7" stroke="#000" stroke-width="1.6"/>
<line x1="104.3" y1="1322" x2="110.5" y2="1322" stroke="#000" stroke-width="1.6"/>
<line x1="104.3" y1="1128.35" x2="110.5" y2="1128.35" stroke="#000" stroke-width="1.6"/>
<line x1="104.3" y1="1257.35" x2="110.5" y2="1257.35" stroke="#000" stroke-width="1.6"/>
<line x1="104.3" y1="1386.38" x2="110.5" y2="1386.38" stroke="#000" stroke-width="1.6"/>
<line x1="104.3" y1="1192.7" x2="405" y2="1192.7" stroke="#000" stroke-width="1.6"/>
<line x1="104.3" y1="1322" x2="405" y2="1322" stroke="#000" stroke-width="1.6"/>
<line x1="104.3" y1="1450.75" x2="405" y2="1450.75" stroke="#000" stroke-width="1.6"/>
<line x1="110.75" y1="1450.75" x2="110.75" y2="1457" stroke="#000" stroke-width="1.6"/>
<line x1="183.25" y1="1450.75" x2="183.25" y2="1457" stroke="#000" stroke-width="1.6"/>
<line x1="256.5" y1="1450.75" x2="256.5" y2="1457" stroke="#000" stroke-width="1.6"/>
<line x1="330.2" y1="1450.75" x2="330.2" y2="1457" stroke="#000" stroke-width="1.6"/>
<line x1="404" y1="1450.75" x2="404" y2="1457" stroke="#000" stroke-width="1.6"/>
<text transform="translate(69.38,1073.2) scale(0.9279,1)" font-family="Liberation Sans" font-weight="normal" font-size="30.5" fill="#000">10</text>
<text transform="translate(69.38,1201.9) scale(0.9279,1)" font-family="Liberation Sans" font-weight="normal" font-size="30.5" fill="#000">10</text>
<text transform="translate(69.38,1331.2) scale(0.9279,1)" font-family="Liberation Sans" font-weight="normal" font-size="30.5" fill="#000">10</text>
<text transform="translate(74.84,1460.6) scale(0.9863,1)" font-family="Liberation Sans" font-weight="normal" font-size="32" fill="#000">0</text>
<text transform="translate(80.02,1482.6) scale(0.9115,1)" font-family="Liberation Sans" font-weight="normal" font-size="30" fill="#000">-180</text>
<text transform="translate(160.04,1482.6) scale(0.8974,1)" font-family="Liberation Sans" font-weight="normal" font-size="30" fill="#000">-90</text>
<text transform="translate(247.68,1482.6) scale(1.0208,1)" font-family="Liberation Sans" font-weight="normal" font-size="30" fill="#000">0</text>
<text transform="translate(312.24,1482.6) scale(0.9320,1)" font-family="Liberation Sans" font-weight="normal" font-size="30" fill="#000">90</text>
<text transform="translate(377.57,1482.6) scale(0.9003,1)" font-family="Liberation Sans" font-weight="normal" font-size="30" fill="#000">180</text>
<text transform="translate(83.3,1153.1) rotate(-90) scale(0.8671,1)" font-family="Liberation Sans" font-weight="bold" font-size="35">X-Z</text>
<text transform="translate(83.1,1288.33) rotate(-90) scale(0.9044,1)" font-family="Liberation Sans" font-weight="bold" font-size="35">Y-Z</text>
<text transform="translate(83,1411.21) rotate(-90) scale(0.8763,1)" font-family="Liberation Sans" font-weight="bold" font-size="35">X-Y</text>
<text transform="translate(42.2,1436.62) rotate(-90) scale(0.9920,1)" font-family="Liberation Sans" font-weight="normal" font-size="42.5">Number of neurons</text>
<rect x="491.39" y="1185.78" width="18.39" height="3.23" fill="#ff0000" stroke="#000" stroke-width="0.9"/>
<rect x="509.77" y="1169.65" width="18.39" height="19.35" fill="#ff0000" stroke="#000" stroke-width="0.9"/>
<rect x="528.16" y="1072.9" width="18.39" height="116.1" fill="#ff0000" stroke="#000" stroke-width="0.9"/>
<rect x="546.55" y="1143.85" width="18.39" height="45.15" fill="#ff0000" stroke="#000" stroke-width="0.9"/>
<rect x="564.94" y="1185.78" width="18.39" height="3.23" fill="#ff0000" stroke="#000" stroke-width="0.9"/>
<rect x="583.33" y="1182.55" width="18.39" height="6.45" fill="#ff0000" stroke="#000" stroke-width="0.9"/>
<rect x="601.71" y="1185.78" width="18.39" height="3.23" fill="#ff0000" stroke="#000" stroke-width="0.9"/>
<rect x="473" y="1308.33" width="18.39" height="9.68" fill="#00ff00" stroke="#000" stroke-width="0.9"/>
<rect x="491.39" y="1314.78" width="18.39" height="3.23" fill="#00ff00" stroke="#000" stroke-width="0.9"/>
<rect x="509.77" y="1314.78" width="18.39" height="3.23" fill="#00ff00" stroke="#000" stroke-width="0.9"/>
<rect x="528.16" y="1314.78" width="18.39" height="3.23" fill="#00ff00" stroke="#000" stroke-width="0.9"/>
<rect x="546.55" y="1314.78" width="18.39" height="3.23" fill="#00ff00" stroke="#000" stroke-width="0.9"/>
<rect x="583.33" y="1314.78" width="18.39" height="3.23" fill="#00ff00" stroke="#000" stroke-width="0.9"/>
<rect x="601.71" y="1308.33" width="18.39" height="9.68" fill="#00ff00" stroke="#000" stroke-width="0.9"/>
<rect x="620.1" y="1311.55" width="18.39" height="6.45" fill="#00ff00" stroke="#000" stroke-width="0.9"/>
<rect x="638.49" y="1308.33" width="18.39" height="9.68" fill="#00ff00" stroke="#000" stroke-width="0.9"/>
<rect x="656.88" y="1298.65" width="18.39" height="19.35" fill="#00ff00" stroke="#000" stroke-width="0.9"/>
<rect x="675.26" y="1301.88" width="18.39" height="16.12" fill="#00ff00" stroke="#000" stroke-width="0.9"/>
<rect x="693.65" y="1295.42" width="18.39" height="22.57" fill="#00ff00" stroke="#000" stroke-width="0.9"/>
<rect x="712.04" y="1295.42" width="18.39" height="22.57" fill="#00ff00" stroke="#000" stroke-width="0.9"/>
<rect x="730.43" y="1292.2" width="18.39" height="25.8" fill="#00ff00" stroke="#000" stroke-width="0.9"/>
<rect x="748.81" y="1279.3" width="18.39" height="38.7" fill="#00ff00" stroke="#000" stroke-width="0.9"/>
<rect x="473" y="1430.88" width="18.39" height="16.12" fill="#0000ff" stroke="#000" stroke-width="0.9"/>
<rect x="491.39" y="1443.78" width="18.39" height="3.23" fill="#0000ff" stroke="#000" stroke-width="0.9"/>
<rect x="509.77" y="1440.55" width="18.39" height="6.45" fill="#0000ff" stroke="#000" stroke-width="0.9"/>
<rect x="528.16" y="1434.1" width="18.39" height="12.9" fill="#0000ff" stroke="#000" stroke-width="0.9"/>
<rect x="546.55" y="1427.65" width="18.39" height="19.35" fill="#0000ff" stroke="#000" stroke-width="0.9"/>
<rect x="564.94" y="1427.65" width="18.39" height="19.35" fill="#0000ff" stroke="#000" stroke-width="0.9"/>
<rect x="583.33" y="1430.88" width="18.39" height="16.12" fill="#0000ff" stroke="#000" stroke-width="0.9"/>
<rect x="601.71" y="1427.65" width="18.39" height="19.35" fill="#0000ff" stroke="#000" stroke-width="0.9"/>
<rect x="620.1" y="1424.42" width="18.39" height="22.57" fill="#0000ff" stroke="#000" stroke-width="0.9"/>
<rect x="638.49" y="1443.78" width="18.39" height="3.23" fill="#0000ff" stroke="#000" stroke-width="0.9"/>
<rect x="656.88" y="1440.55" width="18.39" height="6.45" fill="#0000ff" stroke="#000" stroke-width="0.9"/>
<rect x="675.26" y="1443.78" width="18.39" height="3.23" fill="#0000ff" stroke="#000" stroke-width="0.9"/>
<rect x="693.65" y="1427.65" width="18.39" height="19.35" fill="#0000ff" stroke="#000" stroke-width="0.9"/>
<rect x="712.04" y="1440.55" width="18.39" height="6.45" fill="#0000ff" stroke="#000" stroke-width="0.9"/>
<rect x="730.43" y="1434.1" width="18.39" height="12.9" fill="#0000ff" stroke="#000" stroke-width="0.9"/>
<rect x="748.81" y="1437.33" width="18.39" height="9.68" fill="#0000ff" stroke="#000" stroke-width="0.9"/>
<line x1="473" y1="1060" x2="473" y2="1447" stroke="#000" stroke-width="1.6"/>
<line x1="466.6" y1="1060" x2="473" y2="1060" stroke="#000" stroke-width="1.6"/>
<line x1="466.6" y1="1189" x2="473" y2="1189" stroke="#000" stroke-width="1.6"/>
<line x1="466.6" y1="1318" x2="473" y2="1318" stroke="#000" stroke-width="1.6"/>
<line x1="466.6" y1="1124.5" x2="473" y2="1124.5" stroke="#000" stroke-width="1.6"/>
<line x1="466.6" y1="1253.5" x2="473" y2="1253.5" stroke="#000" stroke-width="1.6"/>
<line x1="466.6" y1="1382.5" x2="473" y2="1382.5" stroke="#000" stroke-width="1.6"/>
<line x1="466.6" y1="1189" x2="767.2" y2="1189" stroke="#000" stroke-width="1.6"/>
<line x1="466.6" y1="1318" x2="767.2" y2="1318" stroke="#000" stroke-width="1.6"/>
<line x1="466.6" y1="1447" x2="767.2" y2="1447" stroke="#000" stroke-width="1.6"/>
<line x1="473.2" y1="1447" x2="473.2" y2="1453.3" stroke="#000" stroke-width="1.6"/>
<line x1="546.4" y1="1447" x2="546.4" y2="1453.3" stroke="#000" stroke-width="1.6"/>
<line x1="620" y1="1447" x2="620" y2="1453.3" stroke="#000" stroke-width="1.6"/>
<line x1="693.5" y1="1447" x2="693.5" y2="1453.3" stroke="#000" stroke-width="1.6"/>
<line x1="767" y1="1447" x2="767" y2="1453.3" stroke="#000" stroke-width="1.6"/>
<text transform="translate(430.59,1069.5) scale(0.9784,1)" font-family="Liberation Sans" font-weight="normal" font-size="31" fill="#000">40</text>
<text transform="translate(430.59,1198.5) scale(0.9784,1)" font-family="Liberation Sans" font-weight="normal" font-size="31" fill="#000">40</text>
<text transform="translate(430.59,1327.5) scale(0.9784,1)" font-family="Liberation Sans" font-weight="normal" font-size="31" fill="#000">40</text>
<text transform="translate(443.73,1456.3) scale(1.0119,1)" font-family="Liberation Sans" font-weight="normal" font-size="31.5" fill="#000">0</text>
<text transform="translate(445.75,1483.2) scale(0.9253,1)" font-family="Liberation Sans" font-weight="normal" font-size="30" fill="#000">-180</text>
<text transform="translate(525.84,1483.2) scale(0.9304,1)" font-family="Liberation Sans" font-weight="normal" font-size="30" fill="#000">-90</text>
<text transform="translate(613.65,1483.2) scale(1.0417,1)" font-family="Liberation Sans" font-weight="normal" font-size="30" fill="#000">0</text>
<text transform="translate(677.94,1483.2) scale(0.9353,1)" font-family="Liberation Sans" font-weight="normal" font-size="30" fill="#000">90</text>
<text transform="translate(742.87,1483.2) scale(0.9003,1)" font-family="Liberation Sans" font-weight="normal" font-size="30" fill="#000">180</text>
<text transform="translate(594.48,1156.6) scale(0.9994,1)" font-family="Liberation Sans" font-weight="bold" font-size="29.5" fill="#000">Front View</text>
<text transform="translate(602.32,1291.4) scale(0.9947,1)" font-family="Liberation Sans" font-weight="bold" font-size="29.5" fill="#000">SideView</text>
<text transform="translate(605.6,1414.75) scale(1.0162,1)" font-family="Liberation Sans" font-weight="bold" font-size="29.5" fill="#000">Top View</text>
<text transform="translate(78.51,1535.5) scale(0.9844,1)" font-family="Liberation Sans" font-weight="normal" font-size="42.5" fill="#000">2D preferred direction difference (deg)</text>
<line x1="108.1" y1="1622" x2="108.1" y2="1857.8" stroke="#707070" stroke-width="2.0"/>
<line x1="108.1" y1="1853" x2="400.75" y2="1853" stroke="#606060" stroke-width="1.7"/>
<line x1="103" y1="1651" x2="108.1" y2="1651" stroke="#707070" stroke-width="1.6"/>
<line x1="103" y1="1708.75" x2="108.1" y2="1708.75" stroke="#707070" stroke-width="1.6"/>
<line x1="103" y1="1766.6" x2="108.1" y2="1766.6" stroke="#707070" stroke-width="1.6"/>
<line x1="103" y1="1824.4" x2="108.1" y2="1824.4" stroke="#707070" stroke-width="1.6"/>
<line x1="181.25" y1="1853" x2="181.25" y2="1857.8" stroke="#606060" stroke-width="1.6"/>
<line x1="254.5" y1="1853" x2="254.5" y2="1857.8" stroke="#606060" stroke-width="1.6"/>
<line x1="327.5" y1="1853" x2="327.5" y2="1857.8" stroke="#606060" stroke-width="1.6"/>
<line x1="400.75" y1="1853" x2="400.75" y2="1857.8" stroke="#606060" stroke-width="1.6"/>
<text transform="translate(60.39,1656.8) scale(0.9131,1)" font-family="Liberation Sans" font-weight="normal" font-size="30.8" fill="#000">1.0</text>
<text transform="translate(59.16,1714.3) scale(0.9629,1)" font-family="Liberation Sans" font-weight="normal" font-size="30.8" fill="#000">0.8</text>
<text transform="translate(59.16,1772.3) scale(0.9629,1)" font-family="Liberation Sans" font-weight="normal" font-size="30.8" fill="#000">0.6</text>
<text transform="translate(59.33,1830) scale(0.9470,1)" font-family="Liberation Sans" font-weight="normal" font-size="30.8" fill="#000">0.4</text>
<text transform="translate(80.01,1887.2) scale(0.9201,1)" font-family="Liberation Sans" font-weight="normal" font-size="30" fill="#000">-180</text>
<text transform="translate(155.75,1887.2) scale(0.9280,1)" font-family="Liberation Sans" font-weight="normal" font-size="30" fill="#000">-90</text>
<text transform="translate(245.88,1887.2) scale(0.9375,1)" font-family="Liberation Sans" font-weight="normal" font-size="30" fill="#000">0</text>
<text transform="translate(309.99,1887.2) scale(0.9304,1)" font-family="Liberation Sans" font-weight="normal" font-size="30" fill="#000">90</text>
<text transform="translate(375.57,1887.2) scale(0.8574,1)" font-family="Liberation Sans" font-weight="normal" font-size="30" fill="#000">180</text>
<clipPath id="cg"><rect x="109.1" y="1600" width="291.8" height="253"/></clipPath>
<g clip-path="url(#cg)">
<circle cx="168.1" cy="1656.25" r="3.6" fill="#0000ff" stroke="#000" stroke-opacity="0.75" stroke-width="0.8"/>
<circle cx="173.75" cy="1665.6" r="3.6" fill="#0000ff" stroke="#000" stroke-opacity="0.75" stroke-width="0.8"/>
<circle cx="179.4" cy="1667.75" r="3.6" fill="#0000ff" stroke="#000" stroke-opacity="0.75" stroke-width="0.8"/>
<circle cx="184.75" cy="1667.25" r="3.6" fill="#0000ff" stroke="#000" stroke-opacity="0.75" stroke-width="0.8"/>
<circle cx="165.25" cy="1672.9" r="3.6" fill="#0000ff" stroke="#000" stroke-opacity="0.75" stroke-width="0.8"/>
<circle cx="191.5" cy="1673.1" r="3.6" fill="#0000ff" stroke="#000" stroke-opacity="0.75" stroke-width="0.8"/>
<circle cx="114.75" cy="1680.4" r="3.6" fill="#0000ff" stroke="#000" stroke-opacity="0.75" stroke-width="0.8"/>
<circle cx="125.4" cy="1693.4" r="3.6" fill="#0000ff" stroke="#000" stroke-opacity="0.75" stroke-width="0.8"/>
<circle cx="154.1" cy="1702.75" r="3.6" fill="#0000ff" stroke="#000" stroke-opacity="0.75" stroke-width="0.8"/>
<circle cx="142.75" cy="1715.6" r="3.6" fill="#0000ff" stroke="#000" stroke-opacity="0.75" stroke-width="0.8"/>
<circle cx="147.25" cy="1720" r="3.6" fill="#0000ff" stroke="#000" stroke-opacity="0.75" stroke-width="0.8"/>
<circle cx="160" cy="1719.4" r="3.6" fill="#0000ff" stroke="#000" stroke-opacity="0.75" stroke-width="0.8"/>
<circle cx="173.5" cy="1713.5" r="3.6" fill="#0000ff" stroke="#000" stroke-opacity="0.75" stroke-width="0.8"/>
<circle cx="118.75" cy="1730.6" r="3.6" fill="#0000ff" stroke="#000" stroke-opacity="0.75" stroke-width="0.8"/>
<circle cx="219.75" cy="1657.5" r="3.6" fill="#0000ff" stroke="#000" stroke-opacity="0.75" stroke-width="0.8"/>
<circle cx="216.5" cy="1680.6" r="3.6" fill="#0000ff" stroke="#000" stroke-opacity="0.75" stroke-width="0.8"/>
<circle cx="273.4" cy="1654.4" r="3.6" fill="#0000ff" stroke="#000" stroke-opacity="0.75" stroke-width="0.8"/>
<circle cx="289.8" cy="1661.9" r="3.6" fill="#0000ff" stroke="#000" stroke-opacity="0.75" stroke-width="0.8"/>
<circle cx="255" cy="1739.4" r="3.6" fill="#0000ff" stroke="#000" stroke-opacity="0.75" stroke-width="0.8"/>
<circle cx="302.4" cy="1675.75" r="3.6" fill="#0000ff" stroke="#000" stroke-opacity="0.75" stroke-width="0.8"/>
<circle cx="333.6" cy="1672.5" r="3.6" fill="#0000ff" stroke="#000" stroke-opacity="0.75" stroke-width="0.8"/>
<circle cx="358.8" cy="1675.75" r="3.6" fill="#0000ff" stroke="#000" stroke-opacity="0.75" stroke-width="0.8"/>
<circle cx="389.2" cy="1663.2" r="3.6" fill="#0000ff" stroke="#000" stroke-opacity="0.75" stroke-width="0.8"/>
<circle cx="343.9" cy="1689.9" r="3.6" fill="#0000ff" stroke="#000" stroke-opacity="0.75" stroke-width="0.8"/>
<circle cx="301.1" cy="1703.7" r="3.6" fill="#0000ff" stroke="#000" stroke-opacity="0.75" stroke-width="0.8"/>
<circle cx="316.2" cy="1698.2" r="3.6" fill="#0000ff" stroke="#000" stroke-opacity="0.75" stroke-width="0.8"/>
<circle cx="324.2" cy="1699.8" r="3.6" fill="#0000ff" stroke="#000" stroke-opacity="0.75" stroke-width="0.8"/>
<circle cx="341.25" cy="1707.1" r="3.6" fill="#0000ff" stroke="#000" stroke-opacity="0.75" stroke-width="0.8"/>
<circle cx="294" cy="1725.3" r="3.6" fill="#0000ff" stroke="#000" stroke-opacity="0.75" stroke-width="0.8"/>
<circle cx="364.6" cy="1744.6" r="3.6" fill="#0000ff" stroke="#000" stroke-opacity="0.75" stroke-width="0.8"/>
<circle cx="381.6" cy="1749" r="3.6" fill="#0000ff" stroke="#000" stroke-opacity="0.75" stroke-width="0.8"/>
<circle cx="320.6" cy="1752.9" r="3.6" fill="#0000ff" stroke="#000" stroke-opacity="0.75" stroke-width="0.8"/>
<circle cx="328.2" cy="1758.3" r="3.6" fill="#0000ff" stroke="#000" stroke-opacity="0.75" stroke-width="0.8"/>
<circle cx="343" cy="1758.6" r="3.6" fill="#0000ff" stroke="#000" stroke-opacity="0.75" stroke-width="0.8"/>
<circle cx="111" cy="1753.3" r="3.6" fill="#0000ff" stroke="#000" stroke-opacity="0.75" stroke-width="0.8"/>
<circle cx="154.9" cy="1746" r="3.6" fill="#0000ff" stroke="#000" stroke-opacity="0.75" stroke-width="0.8"/>
<circle cx="162.6" cy="1749.25" r="3.6" fill="#0000ff" stroke="#000" stroke-opacity="0.75" stroke-width="0.8"/>
<circle cx="199.9" cy="1744.4" r="3.6" fill="#0000ff" stroke="#000" stroke-opacity="0.75" stroke-width="0.8"/>
<circle cx="131.7" cy="1761.1" r="3.6" fill="#0000ff" stroke="#000" stroke-opacity="0.75" stroke-width="0.8"/>
<circle cx="119" cy="1773.3" r="3.6" fill="#0000ff" stroke="#000" stroke-opacity="0.75" stroke-width="0.8"/>
<circle cx="257" cy="1740.3" r="3.6" fill="#0000ff" stroke="#000" stroke-opacity="0.75" stroke-width="0.8"/>
<circle cx="272.3" cy="1775.6" r="3.6" fill="#0000ff" stroke="#000" stroke-opacity="0.75" stroke-width="0.8"/>
<circle cx="242.75" cy="1795.1" r="3.6" fill="#0000ff" stroke="#000" stroke-opacity="0.75" stroke-width="0.8"/>
<circle cx="301.75" cy="1792.6" r="3.6" fill="#0000ff" stroke="#000" stroke-opacity="0.75" stroke-width="0.8"/>
<circle cx="348.4" cy="1791.4" r="3.6" fill="#0000ff" stroke="#000" stroke-opacity="0.75" stroke-width="0.8"/>
<circle cx="367.5" cy="1776" r="3.6" fill="#0000ff" stroke="#000" stroke-opacity="0.75" stroke-width="0.8"/>
<circle cx="364.6" cy="1778.1" r="3.6" fill="#0000ff" stroke="#000" stroke-opacity="0.75" stroke-width="0.8"/>
<circle cx="118.4" cy="1652.1" r="3.6" fill="#00ff00" stroke="#000" stroke-opacity="0.75" stroke-width="0.8"/>
<circle cx="156.5" cy="1656" r="3.6" fill="#00ff00" stroke="#000" stroke-opacity="0.75" stroke-width="0.8"/>
<circle cx="175" cy="1652.9" r="3.6" fill="#00ff00" stroke="#000" stroke-opacity="0.75" stroke-width="0.8"/>
<circle cx="177.5" cy="1657.75" r="3.6" fill="#00ff00" stroke="#000" stroke-opacity="0.75" stroke-width="0.8"/>
<circle cx="186.9" cy="1659" r="3.6" fill="#00ff00" stroke="#000" stroke-opacity="0.75" stroke-width="0.8"/>
<circle cx="190.25" cy="1661.5" r="3.6" fill="#00ff00" stroke="#000" stroke-opacity="0.75" stroke-width="0.8"/>
<circle cx="194.4" cy="1657.5" r="3.6" fill="#00ff00" stroke="#000" stroke-opacity="0.75" stroke-width="0.8"/>
<circle cx="142.25" cy="1670.9" r="3.6" fill="#00ff00" stroke="#000" stroke-opacity="0.75" stroke-width="0.8"/>
<circle cx="150.6" cy="1669.1" r="3.6" fill="#00ff00" stroke="#000" stroke-opacity="0.75" stroke-width="0.8"/>
<circle cx="153.75" cy="1676.5" r="3.6" fill="#00ff00" stroke="#000" stroke-opacity="0.75" stroke-width="0.8"/>
<circle cx="174.4" cy="1668.5" r="3.6" fill="#00ff00" stroke="#000" stroke-opacity="0.75" stroke-width="0.8"/>
<circle cx="173.75" cy="1680" r="3.6" fill="#00ff00" stroke="#000" stroke-opacity="0.75" stroke-width="0.8"/>
<circle cx="187.5" cy="1680.25" r="3.6" fill="#00ff00" stroke="#000" stroke-opacity="0.75" stroke-width="0.8"/>
<circle cx="170.4" cy="1694.4" r="3.6" fill="#00ff00" stroke="#000" stroke-opacity="0.75" stroke-width="0.8"/>
<circle cx="109" cy="1711.9" r="3.6" fill="#00ff00" stroke="#000" stroke-opacity="0.75" stroke-width="0.8"/>
<circle cx="155.4" cy="1726" r="3.6" fill="#00ff00" stroke="#000" stroke-opacity="0.75" stroke-width="0.8"/>
<circle cx="171.25" cy="1727.5" r="3.6" fill="#00ff00" stroke="#000" stroke-opacity="0.75" stroke-width="0.8"/>
<circle cx="142.5" cy="1736.9" r="3.6" fill="#00ff00" stroke="#000" stroke-opacity="0.75" stroke-width="0.8"/>
<circle cx="212.9" cy="1654" r="3.6" fill="#00ff00" stroke="#000" stroke-opacity="0.75" stroke-width="0.8"/>
<circle cx="209.6" cy="1675.9" r="3.6" fill="#00ff00" stroke="#000" stroke-opacity="0.75" stroke-width="0.8"/>
<circle cx="238.75" cy="1693.4" r="3.6" fill="#00ff00" stroke="#000" stroke-opacity="0.75" stroke-width="0.8"/>
<circle cx="272.75" cy="1695.25" r="3.6" fill="#00ff00" stroke="#000" stroke-opacity="0.75" stroke-width="0.8"/>
<circle cx="270.9" cy="1707.5" r="3.6" fill="#00ff00" stroke="#000" stroke-opacity="0.75" stroke-width="0.8"/>
<circle cx="234.4" cy="1738.75" r="3.6" fill="#00ff00" stroke="#000" stroke-opacity="0.75" stroke-width="0.8"/>
<circle cx="326.8" cy="1655" r="3.6" fill="#00ff00" stroke="#000" stroke-opacity="0.75" stroke-width="0.8"/>
<circle cx="345" cy="1668.1" r="3.6" fill="#00ff00" stroke="#000" stroke-opacity="0.75" stroke-width="0.8"/>
<circle cx="364" cy="1694.4" r="3.6" fill="#00ff00" stroke="#000" stroke-opacity="0.75" stroke-width="0.8"/>
<circle cx="378.3" cy="1655.4" r="3.6" fill="#00ff00" stroke="#000" stroke-opacity="0.75" stroke-width="0.8"/>
<circle cx="384.8" cy="1724.2" r="3.6" fill="#00ff00" stroke="#000" stroke-opacity="0.75" stroke-width="0.8"/>
<circle cx="380.75" cy="1726.45" r="3.6" fill="#00ff00" stroke="#000" stroke-opacity="0.75" stroke-width="0.8"/>
<circle cx="128" cy="1744.4" r="3.6" fill="#00ff00" stroke="#000" stroke-opacity="0.75" stroke-width="0.8"/>
<circle cx="117.1" cy="1748.4" r="3.6" fill="#00ff00" stroke="#000" stroke-opacity="0.75" stroke-width="0.8"/>
<circle cx="188.1" cy="1748.1" r="3.6" fill="#00ff00" stroke="#000" stroke-opacity="0.75" stroke-width="0.8"/>
<circle cx="226.4" cy="1749.25" r="3.6" fill="#00ff00" stroke="#000" stroke-opacity="0.75" stroke-width="0.8"/>
<circle cx="229.2" cy="1746.8" r="3.6" fill="#00ff00" stroke="#000" stroke-opacity="0.75" stroke-width="0.8"/>
<circle cx="117.5" cy="1780.6" r="3.6" fill="#00ff00" stroke="#000" stroke-opacity="0.75" stroke-width="0.8"/>
<circle cx="128.4" cy="1789.9" r="3.6" fill="#00ff00" stroke="#000" stroke-opacity="0.75" stroke-width="0.8"/>
<circle cx="212.6" cy="1769.2" r="3.6" fill="#00ff00" stroke="#000" stroke-opacity="0.75" stroke-width="0.8"/>
<circle cx="222.7" cy="1782.9" r="3.6" fill="#00ff00" stroke="#000" stroke-opacity="0.75" stroke-width="0.8"/>
<circle cx="199.1" cy="1832.6" r="3.6" fill="#00ff00" stroke="#000" stroke-opacity="0.75" stroke-width="0.8"/>
<circle cx="234.6" cy="1740.3" r="3.6" fill="#00ff00" stroke="#000" stroke-opacity="0.75" stroke-width="0.8"/>
<circle cx="230.6" cy="1746" r="3.6" fill="#00ff00" stroke="#000" stroke-opacity="0.75" stroke-width="0.8"/>
<circle cx="249.6" cy="1746.3" r="3.6" fill="#00ff00" stroke="#000" stroke-opacity="0.75" stroke-width="0.8"/>
<circle cx="274.9" cy="1757.4" r="3.6" fill="#00ff00" stroke="#000" stroke-opacity="0.75" stroke-width="0.8"/>
<circle cx="275.25" cy="1779.3" r="3.6" fill="#00ff00" stroke="#000" stroke-opacity="0.75" stroke-width="0.8"/>
<circle cx="338.95" cy="1773.6" r="3.6" fill="#00ff00" stroke="#000" stroke-opacity="0.75" stroke-width="0.8"/>
<circle cx="346.75" cy="1777.7" r="3.6" fill="#00ff00" stroke="#000" stroke-opacity="0.75" stroke-width="0.8"/>
<circle cx="338.3" cy="1789.9" r="3.6" fill="#00ff00" stroke="#000" stroke-opacity="0.75" stroke-width="0.8"/>
<circle cx="116.9" cy="1654" r="3.6" fill="#ff0000" stroke="#000" stroke-opacity="0.75" stroke-width="0.8"/>
<circle cx="183.1" cy="1651.25" r="3.6" fill="#ff0000" stroke="#000" stroke-opacity="0.75" stroke-width="0.8"/>
<circle cx="198.1" cy="1660.6" r="3.6" fill="#ff0000" stroke="#000" stroke-opacity="0.75" stroke-width="0.8"/>
<circle cx="200.6" cy="1661.25" r="3.6" fill="#ff0000" stroke="#000" stroke-opacity="0.75" stroke-width="0.8"/>
<circle cx="204.4" cy="1658.75" r="3.6" fill="#ff0000" stroke="#000" stroke-opacity="0.75" stroke-width="0.8"/>
<circle cx="167.75" cy="1666" r="3.6" fill="#ff0000" stroke="#000" stroke-opacity="0.75" stroke-width="0.8"/>
<circle cx="170.6" cy="1674" r="3.6" fill="#ff0000" stroke="#000" stroke-opacity="0.75" stroke-width="0.8"/>
<circle cx="188.5" cy="1685.9" r="3.6" fill="#ff0000" stroke="#000" stroke-opacity="0.75" stroke-width="0.8"/>
<circle cx="159.75" cy="1689.4" r="3.6" fill="#ff0000" stroke="#000" stroke-opacity="0.75" stroke-width="0.8"/>
<circle cx="179" cy="1691.25" r="3.6" fill="#ff0000" stroke="#000" stroke-opacity="0.75" stroke-width="0.8"/>
<circle cx="197.5" cy="1693.5" r="3.6" fill="#ff0000" stroke="#000" stroke-opacity="0.75" stroke-width="0.8"/>
<circle cx="134.4" cy="1715.75" r="3.6" fill="#ff0000" stroke="#000" stroke-opacity="0.75" stroke-width="0.8"/>
<circle cx="147.75" cy="1718.1" r="3.6" fill="#ff0000" stroke="#000" stroke-opacity="0.75" stroke-width="0.8"/>
<circle cx="185.75" cy="1709.5" r="3.6" fill="#ff0000" stroke="#000" stroke-opacity="0.75" stroke-width="0.8"/>
<circle cx="189.75" cy="1716.9" r="3.6" fill="#ff0000" stroke="#000" stroke-opacity="0.75" stroke-width="0.8"/>
<circle cx="169.75" cy="1730" r="3.6" fill="#ff0000" stroke="#000" stroke-opacity="0.75" stroke-width="0.8"/>
<circle cx="214" cy="1669.4" r="3.6" fill="#ff0000" stroke="#000" stroke-opacity="0.75" stroke-width="0.8"/>
<circle cx="270.9" cy="1702.9" r="3.6" fill="#ff0000" stroke="#000" stroke-opacity="0.75" stroke-width="0.8"/>
<circle cx="267.75" cy="1717.1" r="3.6" fill="#ff0000" stroke="#000" stroke-opacity="0.75" stroke-width="0.8"/>
<circle cx="286.9" cy="1719.4" r="3.6" fill="#ff0000" stroke="#000" stroke-opacity="0.75" stroke-width="0.8"/>
<circle cx="206.5" cy="1725" r="3.6" fill="#ff0000" stroke="#000" stroke-opacity="0.75" stroke-width="0.8"/>
<circle cx="259" cy="1735.6" r="3.6" fill="#ff0000" stroke="#000" stroke-opacity="0.75" stroke-width="0.8"/>
<circle cx="272.5" cy="1735.6" r="3.6" fill="#ff0000" stroke="#000" stroke-opacity="0.75" stroke-width="0.8"/>
<circle cx="326" cy="1661.9" r="3.6" fill="#ff0000" stroke="#000" stroke-opacity="0.75" stroke-width="0.8"/>
<circle cx="360.9" cy="1681.75" r="3.6" fill="#ff0000" stroke="#000" stroke-opacity="0.75" stroke-width="0.8"/>
<circle cx="377.2" cy="1652.7" r="3.6" fill="#ff0000" stroke="#000" stroke-opacity="0.75" stroke-width="0.8"/>
<circle cx="373.1" cy="1659.5" r="3.6" fill="#ff0000" stroke="#000" stroke-opacity="0.75" stroke-width="0.8"/>
<circle cx="308.1" cy="1702.9" r="3.6" fill="#ff0000" stroke="#000" stroke-opacity="0.75" stroke-width="0.8"/>
<circle cx="371.8" cy="1720.9" r="3.6" fill="#ff0000" stroke="#000" stroke-opacity="0.75" stroke-width="0.8"/>
<circle cx="399.4" cy="1721.25" r="3.6" fill="#ff0000" stroke="#000" stroke-opacity="0.75" stroke-width="0.8"/>
<circle cx="300" cy="1750.8" r="3.6" fill="#ff0000" stroke="#000" stroke-opacity="0.75" stroke-width="0.8"/>
<circle cx="342.9" cy="1762.2" r="3.6" fill="#ff0000" stroke="#000" stroke-opacity="0.75" stroke-width="0.8"/>
<circle cx="123.25" cy="1748.4" r="3.6" fill="#ff0000" stroke="#000" stroke-opacity="0.75" stroke-width="0.8"/>
<circle cx="164.7" cy="1744.4" r="3.6" fill="#ff0000" stroke="#000" stroke-opacity="0.75" stroke-width="0.8"/>
<circle cx="263.1" cy="1752.8" r="3.6" fill="#ff0000" stroke="#000" stroke-opacity="0.75" stroke-width="0.8"/>
<circle cx="238.7" cy="1756.9" r="3.6" fill="#ff0000" stroke="#000" stroke-opacity="0.75" stroke-width="0.8"/>
<circle cx="235.4" cy="1780.6" r="3.6" fill="#ff0000" stroke="#000" stroke-opacity="0.75" stroke-width="0.8"/>
<circle cx="273.6" cy="1778.8" r="3.6" fill="#ff0000" stroke="#000" stroke-opacity="0.75" stroke-width="0.8"/>
<circle cx="239.2" cy="1794.75" r="3.6" fill="#ff0000" stroke="#000" stroke-opacity="0.75" stroke-width="0.8"/>
<circle cx="241.5" cy="1796" r="3.6" fill="#ff0000" stroke="#000" stroke-opacity="0.75" stroke-width="0.8"/>
<circle cx="327.75" cy="1778.5" r="3.6" fill="#ff0000" stroke="#000" stroke-opacity="0.75" stroke-width="0.8"/>
<circle cx="344.3" cy="1783" r="3.6" fill="#ff0000" stroke="#000" stroke-opacity="0.75" stroke-width="0.8"/>
<circle cx="347.8" cy="1786.8" r="3.6" fill="#ff0000" stroke="#000" stroke-opacity="0.75" stroke-width="0.8"/>
<circle cx="358.5" cy="1817.9" r="3.6" fill="#ff0000" stroke="#000" stroke-opacity="0.75" stroke-width="0.8"/>
</g>
<line x1="473.5" y1="1622" x2="473.5" y2="1858" stroke="#2a2a2a" stroke-width="1.2"/>
<line x1="473.5" y1="1853" x2="765.8" y2="1853" stroke="#5a5a5a" stroke-width="1.6"/>
<line x1="468" y1="1651" x2="473.5" y2="1651" stroke="#2a2a2a" stroke-width="1.3"/>
<line x1="468" y1="1708.75" x2="473.5" y2="1708.75" stroke="#2a2a2a" stroke-width="1.3"/>
<line x1="468" y1="1766.5" x2="473.5" y2="1766.5" stroke="#2a2a2a" stroke-width="1.3"/>
<line x1="468" y1="1824.2" x2="473.5" y2="1824.2" stroke="#2a2a2a" stroke-width="1.3"/>
<line x1="547" y1="1853" x2="547" y2="1857.8" stroke="#5a5a5a" stroke-width="1.5"/>
<line x1="620" y1="1853" x2="620" y2="1857.8" stroke="#5a5a5a" stroke-width="1.5"/>
<line x1="693.2" y1="1853" x2="693.2" y2="1857.8" stroke="#5a5a5a" stroke-width="1.5"/>
<line x1="765.8" y1="1853" x2="765.8" y2="1857.8" stroke="#5a5a5a" stroke-width="1.5"/>
<text transform="translate(425.6,1659.6) scale(0.9296,1)" font-family="Liberation Sans" font-weight="normal" font-size="30.8" fill="#000">1.0</text>
<text transform="translate(424.52,1717.2) scale(0.9542,1)" font-family="Liberation Sans" font-weight="normal" font-size="30.8" fill="#000">0.8</text>
<text transform="translate(424.52,1775.1) scale(0.9542,1)" font-family="Liberation Sans" font-weight="normal" font-size="30.8" fill="#000">0.6</text>
<text transform="translate(424.86,1832.8) scale(0.9224,1)" font-family="Liberation Sans" font-weight="normal" font-size="30.8" fill="#000">0.4</text>
<text transform="translate(444.25,1887.5) scale(0.9236,1)" font-family="Liberation Sans" font-weight="normal" font-size="30" fill="#000">-180</text>
<text transform="translate(519.74,1887.5) scale(0.9304,1)" font-family="Liberation Sans" font-weight="normal" font-size="30" fill="#000">-90</text>
<text transform="translate(610.1,1887.5) scale(0.9549,1)" font-family="Liberation Sans" font-weight="normal" font-size="30" fill="#000">0</text>
<text transform="translate(675.02,1887.5) scale(0.9142,1)" font-family="Liberation Sans" font-weight="normal" font-size="30" fill="#000">90</text>
<text transform="translate(742.61,1887.5) scale(0.8414,1)" font-family="Liberation Sans" font-weight="normal" font-size="30" fill="#000">180</text>
<clipPath id="ch"><rect x="474.1" y="1600" width="291.8" height="253"/></clipPath>
<g clip-path="url(#ch)">
<circle cx="550.9" cy="1700.4" r="3.6" fill="#0000ff" stroke="#000" stroke-opacity="0.75" stroke-width="0.8"/>
<circle cx="501.9" cy="1713.1" r="3.6" fill="#0000ff" stroke="#000" stroke-opacity="0.75" stroke-width="0.8"/>
<circle cx="518.4" cy="1714" r="3.6" fill="#0000ff" stroke="#000" stroke-opacity="0.75" stroke-width="0.8"/>
<circle cx="476.25" cy="1729.6" r="3.6" fill="#0000ff" stroke="#000" stroke-opacity="0.75" stroke-width="0.8"/>
<circle cx="476.9" cy="1743.1" r="3.6" fill="#0000ff" stroke="#000" stroke-opacity="0.75" stroke-width="0.8"/>
<circle cx="516" cy="1757.9" r="3.6" fill="#0000ff" stroke="#000" stroke-opacity="0.75" stroke-width="0.8"/>
<circle cx="541.25" cy="1737.5" r="3.6" fill="#0000ff" stroke="#000" stroke-opacity="0.75" stroke-width="0.8"/>
<circle cx="540.6" cy="1744" r="3.6" fill="#0000ff" stroke="#000" stroke-opacity="0.75" stroke-width="0.8"/>
<circle cx="535.25" cy="1746.9" r="3.6" fill="#0000ff" stroke="#000" stroke-opacity="0.75" stroke-width="0.8"/>
<circle cx="564" cy="1728.1" r="3.6" fill="#0000ff" stroke="#000" stroke-opacity="0.75" stroke-width="0.8"/>
<circle cx="546.6" cy="1756.25" r="3.6" fill="#0000ff" stroke="#000" stroke-opacity="0.75" stroke-width="0.8"/>
<circle cx="555.6" cy="1761.25" r="3.6" fill="#0000ff" stroke="#000" stroke-opacity="0.75" stroke-width="0.8"/>
<circle cx="534.6" cy="1765.6" r="3.6" fill="#0000ff" stroke="#000" stroke-opacity="0.75" stroke-width="0.8"/>
<circle cx="476.5" cy="1768.75" r="3.6" fill="#0000ff" stroke="#000" stroke-opacity="0.75" stroke-width="0.8"/>
<circle cx="565" cy="1773.75" r="3.6" fill="#0000ff" stroke="#000" stroke-opacity="0.75" stroke-width="0.8"/>
<circle cx="567.25" cy="1776" r="3.6" fill="#0000ff" stroke="#000" stroke-opacity="0.75" stroke-width="0.8"/>
<circle cx="546.9" cy="1786" r="3.6" fill="#0000ff" stroke="#000" stroke-opacity="0.75" stroke-width="0.8"/>
<circle cx="490" cy="1788.75" r="3.6" fill="#0000ff" stroke="#000" stroke-opacity="0.75" stroke-width="0.8"/>
<circle cx="597.9" cy="1732.5" r="3.6" fill="#0000ff" stroke="#000" stroke-opacity="0.75" stroke-width="0.8"/>
<circle cx="599.4" cy="1746.5" r="3.6" fill="#0000ff" stroke="#000" stroke-opacity="0.75" stroke-width="0.8"/>
<circle cx="604.75" cy="1746" r="3.6" fill="#0000ff" stroke="#000" stroke-opacity="0.75" stroke-width="0.8"/>
<circle cx="607.9" cy="1750" r="3.6" fill="#0000ff" stroke="#000" stroke-opacity="0.75" stroke-width="0.8"/>
<circle cx="611.9" cy="1753.75" r="3.6" fill="#0000ff" stroke="#000" stroke-opacity="0.75" stroke-width="0.8"/>
<circle cx="595" cy="1753.1" r="3.6" fill="#0000ff" stroke="#000" stroke-opacity="0.75" stroke-width="0.8"/>
<circle cx="620" cy="1744.6" r="3.6" fill="#0000ff" stroke="#000" stroke-opacity="0.75" stroke-width="0.8"/>
<circle cx="635" cy="1741.25" r="3.6" fill="#0000ff" stroke="#000" stroke-opacity="0.75" stroke-width="0.8"/>
<circle cx="634.6" cy="1744" r="3.6" fill="#0000ff" stroke="#000" stroke-opacity="0.75" stroke-width="0.8"/>
<circle cx="607.9" cy="1760.4" r="3.6" fill="#0000ff" stroke="#000" stroke-opacity="0.75" stroke-width="0.8"/>
<circle cx="578.75" cy="1760.25" r="3.6" fill="#0000ff" stroke="#000" stroke-opacity="0.75" stroke-width="0.8"/>
<circle cx="574" cy="1763.1" r="3.6" fill="#0000ff" stroke="#000" stroke-opacity="0.75" stroke-width="0.8"/>
<circle cx="581" cy="1767.25" r="3.6" fill="#0000ff" stroke="#000" stroke-opacity="0.75" stroke-width="0.8"/>
<circle cx="597.25" cy="1765.6" r="3.6" fill="#0000ff" stroke="#000" stroke-opacity="0.75" stroke-width="0.8"/>
<circle cx="601.9" cy="1765.4" r="3.6" fill="#0000ff" stroke="#000" stroke-opacity="0.75" stroke-width="0.8"/>
<circle cx="596.25" cy="1769.4" r="3.6" fill="#0000ff" stroke="#000" stroke-opacity="0.75" stroke-width="0.8"/>
<circle cx="616.25" cy="1765" r="3.6" fill="#0000ff" stroke="#000" stroke-opacity="0.75" stroke-width="0.8"/>
<circle cx="629.1" cy="1764" r="3.6" fill="#0000ff" stroke="#000" stroke-opacity="0.75" stroke-width="0.8"/>
<circle cx="635.6" cy="1771.9" r="3.6" fill="#0000ff" stroke="#000" stroke-opacity="0.75" stroke-width="0.8"/>
<circle cx="578.5" cy="1774.4" r="3.6" fill="#0000ff" stroke="#000" stroke-opacity="0.75" stroke-width="0.8"/>
<circle cx="655.6" cy="1770.6" r="3.6" fill="#0000ff" stroke="#000" stroke-opacity="0.75" stroke-width="0.8"/>
<circle cx="630.9" cy="1671.5" r="3.6" fill="#0000ff" stroke="#000" stroke-opacity="0.75" stroke-width="0.8"/>
<circle cx="667.5" cy="1729" r="3.6" fill="#0000ff" stroke="#000" stroke-opacity="0.75" stroke-width="0.8"/>
<circle cx="629" cy="1810.4" r="3.6" fill="#0000ff" stroke="#000" stroke-opacity="0.75" stroke-width="0.8"/>
<circle cx="699.9" cy="1664.7" r="3.6" fill="#0000ff" stroke="#000" stroke-opacity="0.75" stroke-width="0.8"/>
<circle cx="719.5" cy="1708.75" r="3.6" fill="#0000ff" stroke="#000" stroke-opacity="0.75" stroke-width="0.8"/>
<circle cx="724.75" cy="1712" r="3.6" fill="#0000ff" stroke="#000" stroke-opacity="0.75" stroke-width="0.8"/>
<circle cx="731.25" cy="1722.4" r="3.6" fill="#0000ff" stroke="#000" stroke-opacity="0.75" stroke-width="0.8"/>
<circle cx="742.3" cy="1719.3" r="3.6" fill="#0000ff" stroke="#000" stroke-opacity="0.75" stroke-width="0.8"/>
<circle cx="701.7" cy="1725" r="3.6" fill="#0000ff" stroke="#000" stroke-opacity="0.75" stroke-width="0.8"/>
<circle cx="692.6" cy="1735.9" r="3.6" fill="#0000ff" stroke="#000" stroke-opacity="0.75" stroke-width="0.8"/>
<circle cx="696.8" cy="1742.7" r="3.6" fill="#0000ff" stroke="#000" stroke-opacity="0.75" stroke-width="0.8"/>
<circle cx="688.2" cy="1746" r="3.6" fill="#0000ff" stroke="#000" stroke-opacity="0.75" stroke-width="0.8"/>
<circle cx="663.3" cy="1742" r="3.6" fill="#0000ff" stroke="#000" stroke-opacity="0.75" stroke-width="0.8"/>
<circle cx="752.9" cy="1741.6" r="3.6" fill="#0000ff" stroke="#000" stroke-opacity="0.75" stroke-width="0.8"/>
<circle cx="738.6" cy="1755.4" r="3.6" fill="#0000ff" stroke="#000" stroke-opacity="0.75" stroke-width="0.8"/>
<circle cx="764.2" cy="1761.55" r="3.6" fill="#0000ff" stroke="#000" stroke-opacity="0.75" stroke-width="0.8"/>
<circle cx="695.1" cy="1772.4" r="3.6" fill="#0000ff" stroke="#000" stroke-opacity="0.75" stroke-width="0.8"/>
<circle cx="741.15" cy="1776.25" r="3.6" fill="#0000ff" stroke="#000" stroke-opacity="0.75" stroke-width="0.8"/>
<circle cx="763" cy="1785.9" r="3.6" fill="#0000ff" stroke="#000" stroke-opacity="0.75" stroke-width="0.8"/>
<circle cx="709.65" cy="1791.1" r="3.6" fill="#0000ff" stroke="#000" stroke-opacity="0.75" stroke-width="0.8"/>
<circle cx="531.9" cy="1692.5" r="3.6" fill="#00ff00" stroke="#000" stroke-opacity="0.75" stroke-width="0.8"/>
<circle cx="479.2" cy="1713" r="3.6" fill="#00ff00" stroke="#000" stroke-opacity="0.75" stroke-width="0.8"/>
<circle cx="476.25" cy="1739.4" r="3.6" fill="#00ff00" stroke="#000" stroke-opacity="0.75" stroke-width="0.8"/>
<circle cx="481.9" cy="1741.9" r="3.6" fill="#00ff00" stroke="#000" stroke-opacity="0.75" stroke-width="0.8"/>
<circle cx="507.75" cy="1746.5" r="3.6" fill="#00ff00" stroke="#000" stroke-opacity="0.75" stroke-width="0.8"/>
<circle cx="516" cy="1749" r="3.6" fill="#00ff00" stroke="#000" stroke-opacity="0.75" stroke-width="0.8"/>
<circle cx="561.9" cy="1747.5" r="3.6" fill="#00ff00" stroke="#000" stroke-opacity="0.75" stroke-width="0.8"/>
<circle cx="616.25" cy="1730" r="3.6" fill="#00ff00" stroke="#000" stroke-opacity="0.75" stroke-width="0.8"/>
<circle cx="591" cy="1757.1" r="3.6" fill="#00ff00" stroke="#000" stroke-opacity="0.75" stroke-width="0.8"/>
<circle cx="617.1" cy="1755.9" r="3.6" fill="#00ff00" stroke="#000" stroke-opacity="0.75" stroke-width="0.8"/>
<circle cx="630.9" cy="1753.1" r="3.6" fill="#00ff00" stroke="#000" stroke-opacity="0.75" stroke-width="0.8"/>
<circle cx="634.1" cy="1751.25" r="3.6" fill="#00ff00" stroke="#000" stroke-opacity="0.75" stroke-width="0.8"/>
<circle cx="651" cy="1714.75" r="3.6" fill="#00ff00" stroke="#000" stroke-opacity="0.75" stroke-width="0.8"/>
<circle cx="649" cy="1723.75" r="3.6" fill="#00ff00" stroke="#000" stroke-opacity="0.75" stroke-width="0.8"/>
<circle cx="655" cy="1765" r="3.6" fill="#00ff00" stroke="#000" stroke-opacity="0.75" stroke-width="0.8"/>
<circle cx="601.9" cy="1656" r="3.6" fill="#00ff00" stroke="#000" stroke-opacity="0.75" stroke-width="0.8"/>
<circle cx="668.1" cy="1682.75" r="3.6" fill="#00ff00" stroke="#000" stroke-opacity="0.75" stroke-width="0.8"/>
<circle cx="661.9" cy="1712.5" r="3.6" fill="#00ff00" stroke="#000" stroke-opacity="0.75" stroke-width="0.8"/>
<circle cx="664.4" cy="1716.25" r="3.6" fill="#00ff00" stroke="#000" stroke-opacity="0.75" stroke-width="0.8"/>
<circle cx="668.75" cy="1710.6" r="3.6" fill="#00ff00" stroke="#000" stroke-opacity="0.75" stroke-width="0.8"/>
<circle cx="687.9" cy="1673.3" r="3.6" fill="#00ff00" stroke="#000" stroke-opacity="0.75" stroke-width="0.8"/>
<circle cx="702" cy="1688.75" r="3.6" fill="#00ff00" stroke="#000" stroke-opacity="0.75" stroke-width="0.8"/>
<circle cx="710.45" cy="1687.45" r="3.6" fill="#00ff00" stroke="#000" stroke-opacity="0.75" stroke-width="0.8"/>
<circle cx="716.6" cy="1687.45" r="3.6" fill="#00ff00" stroke="#000" stroke-opacity="0.75" stroke-width="0.8"/>
<circle cx="719.1" cy="1683.5" r="3.6" fill="#00ff00" stroke="#000" stroke-opacity="0.75" stroke-width="0.8"/>
<circle cx="720.7" cy="1688.3" r="3.6" fill="#00ff00" stroke="#000" stroke-opacity="0.75" stroke-width="0.8"/>
<circle cx="673.9" cy="1699.8" r="3.6" fill="#00ff00" stroke="#000" stroke-opacity="0.75" stroke-width="0.8"/>
<circle cx="740.7" cy="1698.8" r="3.6" fill="#00ff00" stroke="#000" stroke-opacity="0.75" stroke-width="0.8"/>
<circle cx="754" cy="1698.5" r="3.6" fill="#00ff00" stroke="#000" stroke-opacity="0.75" stroke-width="0.8"/>
<circle cx="701.2" cy="1707.75" r="3.6" fill="#00ff00" stroke="#000" stroke-opacity="0.75" stroke-width="0.8"/>
<circle cx="670.3" cy="1710.7" r="3.6" fill="#00ff00" stroke="#000" stroke-opacity="0.75" stroke-width="0.8"/>
<circle cx="676.5" cy="1713.4" r="3.6" fill="#00ff00" stroke="#000" stroke-opacity="0.75" stroke-width="0.8"/>
<circle cx="678.9" cy="1711" r="3.6" fill="#00ff00" stroke="#000" stroke-opacity="0.75" stroke-width="0.8"/>
<circle cx="732.5" cy="1711.8" r="3.6" fill="#00ff00" stroke="#000" stroke-opacity="0.75" stroke-width="0.8"/>
<circle cx="736.1" cy="1716" r="3.6" fill="#00ff00" stroke="#000" stroke-opacity="0.75" stroke-width="0.8"/>
<circle cx="725.6" cy="1717.2" r="3.6" fill="#00ff00" stroke="#000" stroke-opacity="0.75" stroke-width="0.8"/>
<circle cx="747.2" cy="1707.4" r="3.6" fill="#00ff00" stroke="#000" stroke-opacity="0.75" stroke-width="0.8"/>
<circle cx="746.2" cy="1713.4" r="3.6" fill="#00ff00" stroke="#000" stroke-opacity="0.75" stroke-width="0.8"/>
<circle cx="745.9" cy="1718.8" r="3.6" fill="#00ff00" stroke="#000" stroke-opacity="0.75" stroke-width="0.8"/>
<circle cx="749.1" cy="1722.4" r="3.6" fill="#00ff00" stroke="#000" stroke-opacity="0.75" stroke-width="0.8"/>
<circle cx="758.5" cy="1718.3" r="3.6" fill="#00ff00" stroke="#000" stroke-opacity="0.75" stroke-width="0.8"/>
<circle cx="754.8" cy="1730.2" r="3.6" fill="#00ff00" stroke="#000" stroke-opacity="0.75" stroke-width="0.8"/>
<circle cx="760.8" cy="1727.75" r="3.6" fill="#00ff00" stroke="#000" stroke-opacity="0.75" stroke-width="0.8"/>
<circle cx="760.2" cy="1731.8" r="3.6" fill="#00ff00" stroke="#000" stroke-opacity="0.75" stroke-width="0.8"/>
<circle cx="689" cy="1728.6" r="3.6" fill="#00ff00" stroke="#000" stroke-opacity="0.75" stroke-width="0.8"/>
<circle cx="692.6" cy="1729.4" r="3.6" fill="#00ff00" stroke="#000" stroke-opacity="0.75" stroke-width="0.8"/>
<circle cx="695.2" cy="1736.2" r="3.6" fill="#00ff00" stroke="#000" stroke-opacity="0.75" stroke-width="0.8"/>
<circle cx="713.7" cy="1744.3" r="3.6" fill="#00ff00" stroke="#000" stroke-opacity="0.75" stroke-width="0.8"/>
<circle cx="756" cy="1739.45" r="3.6" fill="#00ff00" stroke="#000" stroke-opacity="0.75" stroke-width="0.8"/>
<circle cx="748.3" cy="1749.2" r="3.6" fill="#00ff00" stroke="#000" stroke-opacity="0.75" stroke-width="0.8"/>
<circle cx="719.9" cy="1754.6" r="3.6" fill="#00ff00" stroke="#000" stroke-opacity="0.75" stroke-width="0.8"/>
<circle cx="762.9" cy="1751.8" r="3.6" fill="#00ff00" stroke="#000" stroke-opacity="0.75" stroke-width="0.8"/>
<circle cx="734.5" cy="1763.5" r="3.6" fill="#00ff00" stroke="#000" stroke-opacity="0.75" stroke-width="0.8"/>
<circle cx="702.8" cy="1766.4" r="3.6" fill="#00ff00" stroke="#000" stroke-opacity="0.75" stroke-width="0.8"/>
<circle cx="700.4" cy="1768.4" r="3.6" fill="#00ff00" stroke="#000" stroke-opacity="0.75" stroke-width="0.8"/>
<circle cx="702.5" cy="1775.9" r="3.6" fill="#00ff00" stroke="#000" stroke-opacity="0.75" stroke-width="0.8"/>
<circle cx="717.35" cy="1782.4" r="3.6" fill="#00ff00" stroke="#000" stroke-opacity="0.75" stroke-width="0.8"/>
<circle cx="750.25" cy="1777.5" r="3.6" fill="#00ff00" stroke="#000" stroke-opacity="0.75" stroke-width="0.8"/>
<circle cx="733.6" cy="1779.4" r="3.6" fill="#00ff00" stroke="#000" stroke-opacity="0.75" stroke-width="0.8"/>
<circle cx="762.15" cy="1780.6" r="3.6" fill="#00ff00" stroke="#000" stroke-opacity="0.75" stroke-width="0.8"/>
<circle cx="528.8" cy="1650.5" r="3.6" fill="#ff0000" stroke="#000" stroke-opacity="0.75" stroke-width="0.8"/>
<circle cx="538" cy="1651.8" r="3.6" fill="#ff0000" stroke="#000" stroke-opacity="0.75" stroke-width="0.8"/>
<circle cx="543.25" cy="1651.4" r="3.6" fill="#ff0000" stroke="#000" stroke-opacity="0.75" stroke-width="0.8"/>
<circle cx="549.4" cy="1650.9" r="3.6" fill="#ff0000" stroke="#000" stroke-opacity="0.75" stroke-width="0.8"/>
<circle cx="559.4" cy="1652.25" r="3.6" fill="#ff0000" stroke="#000" stroke-opacity="0.75" stroke-width="0.8"/>
<circle cx="527.5" cy="1656.2" r="3.6" fill="#ff0000" stroke="#000" stroke-opacity="0.75" stroke-width="0.8"/>
<circle cx="531.9" cy="1656.2" r="3.6" fill="#ff0000" stroke="#000" stroke-opacity="0.75" stroke-width="0.8"/>
<circle cx="539.75" cy="1657.5" r="3.6" fill="#ff0000" stroke="#000" stroke-opacity="0.75" stroke-width="0.8"/>
<circle cx="545.9" cy="1655.75" r="3.6" fill="#ff0000" stroke="#000" stroke-opacity="0.75" stroke-width="0.8"/>
<circle cx="555.5" cy="1657.5" r="3.6" fill="#ff0000" stroke="#000" stroke-opacity="0.75" stroke-width="0.8"/>
<circle cx="529.25" cy="1661.9" r="3.6" fill="#ff0000" stroke="#000" stroke-opacity="0.75" stroke-width="0.8"/>
<circle cx="538.9" cy="1664.1" r="3.6" fill="#ff0000" stroke="#000" stroke-opacity="0.75" stroke-width="0.8"/>
<circle cx="545.9" cy="1663.2" r="3.6" fill="#ff0000" stroke="#000" stroke-opacity="0.75" stroke-width="0.8"/>
<circle cx="556.4" cy="1660.6" r="3.6" fill="#ff0000" stroke="#000" stroke-opacity="0.75" stroke-width="0.8"/>
<circle cx="520.9" cy="1674.6" r="3.6" fill="#ff0000" stroke="#000" stroke-opacity="0.75" stroke-width="0.8"/>
<circle cx="530.1" cy="1674.1" r="3.6" fill="#ff0000" stroke="#000" stroke-opacity="0.75" stroke-width="0.8"/>
<circle cx="539.75" cy="1672.4" r="3.6" fill="#ff0000" stroke="#000" stroke-opacity="0.75" stroke-width="0.8"/>
<circle cx="548.5" cy="1672.8" r="3.6" fill="#ff0000" stroke="#000" stroke-opacity="0.75" stroke-width="0.8"/>
<circle cx="556.4" cy="1668" r="3.6" fill="#ff0000" stroke="#000" stroke-opacity="0.75" stroke-width="0.8"/>
<circle cx="552.9" cy="1675" r="3.6" fill="#ff0000" stroke="#000" stroke-opacity="0.75" stroke-width="0.8"/>
<circle cx="555.5" cy="1675" r="3.6" fill="#ff0000" stroke="#000" stroke-opacity="0.75" stroke-width="0.8"/>
<circle cx="526.6" cy="1678.9" r="3.6" fill="#ff0000" stroke="#000" stroke-opacity="0.75" stroke-width="0.8"/>
<circle cx="534.5" cy="1681.1" r="3.6" fill="#ff0000" stroke="#000" stroke-opacity="0.75" stroke-width="0.8"/>
<circle cx="543.25" cy="1678.5" r="3.6" fill="#ff0000" stroke="#000" stroke-opacity="0.75" stroke-width="0.8"/>
<circle cx="549.4" cy="1682" r="3.6" fill="#ff0000" stroke="#000" stroke-opacity="0.75" stroke-width="0.8"/>
<circle cx="521.4" cy="1683.75" r="3.6" fill="#ff0000" stroke="#000" stroke-opacity="0.75" stroke-width="0.8"/>
<circle cx="548.5" cy="1688.6" r="3.6" fill="#ff0000" stroke="#000" stroke-opacity="0.75" stroke-width="0.8"/>
<circle cx="526.6" cy="1658.8" r="3.6" fill="#ff0000" stroke="#000" stroke-opacity="0.75" stroke-width="0.8"/>
<circle cx="550.25" cy="1658.4" r="3.6" fill="#ff0000" stroke="#000" stroke-opacity="0.75" stroke-width="0.8"/>
<circle cx="533.6" cy="1675.9" r="3.6" fill="#ff0000" stroke="#000" stroke-opacity="0.75" stroke-width="0.8"/>
<circle cx="537.6" cy="1675" r="3.6" fill="#ff0000" stroke="#000" stroke-opacity="0.75" stroke-width="0.8"/>
<circle cx="546.3" cy="1677.6" r="3.6" fill="#ff0000" stroke="#000" stroke-opacity="0.75" stroke-width="0.8"/>
<circle cx="533.5" cy="1652" r="3.6" fill="#ff0000" stroke="#000" stroke-opacity="0.75" stroke-width="0.8"/>
<circle cx="534.5" cy="1660" r="3.6" fill="#ff0000" stroke="#000" stroke-opacity="0.75" stroke-width="0.8"/>
<circle cx="534.9" cy="1696.4" r="3.6" fill="#ff0000" stroke="#000" stroke-opacity="0.75" stroke-width="0.8"/>
<circle cx="549.4" cy="1710" r="3.6" fill="#ff0000" stroke="#000" stroke-opacity="0.75" stroke-width="0.8"/>
<circle cx="516.25" cy="1719.75" r="3.6" fill="#ff0000" stroke="#000" stroke-opacity="0.75" stroke-width="0.8"/>
<circle cx="494.6" cy="1734.6" r="3.6" fill="#ff0000" stroke="#000" stroke-opacity="0.75" stroke-width="0.8"/>
<circle cx="534.4" cy="1733.1" r="3.6" fill="#ff0000" stroke="#000" stroke-opacity="0.75" stroke-width="0.8"/>
<circle cx="558.1" cy="1725.4" r="3.6" fill="#ff0000" stroke="#000" stroke-opacity="0.75" stroke-width="0.8"/>
<circle cx="567.1" cy="1748.1" r="3.6" fill="#ff0000" stroke="#000" stroke-opacity="0.75" stroke-width="0.8"/>
<circle cx="591" cy="1714" r="3.6" fill="#ff0000" stroke="#000" stroke-opacity="0.75" stroke-width="0.8"/>
<circle cx="593.5" cy="1733.75" r="3.6" fill="#ff0000" stroke="#000" stroke-opacity="0.75" stroke-width="0.8"/>
<circle cx="607.5" cy="1682.75" r="3.6" fill="#ff0000" stroke="#000" stroke-opacity="0.75" stroke-width="0.8"/>
</g>
<text transform="translate(41.9,1948.28) rotate(-90) scale(0.8858,1)" font-family="Liberation Sans" font-weight="normal" font-size="42.5">2D/3D vector length ratio</text>
<text transform="translate(78.16,1938.9) scale(0.9849,1)" font-family="Liberation Sans" font-weight="normal" font-size="42.5" fill="#000">2D preferred direction difference (deg)</text>
<circle cx="636" cy="1093.4" r="10.4" fill="#bdbdbd" stroke="#404040" stroke-width="1"/>
<circle cx="703.8" cy="1093.4" r="10.4" fill="#bdbdbd" stroke="#404040" stroke-width="1"/>
<ellipse cx="670" cy="1096.2" rx="29.3" ry="32.4" fill="#b2b2b2" stroke="#404040" stroke-width="1"/>
<path d="M670,1088 C667,1081 661,1077 655,1077 C648.5,1077 644.3,1082 644.5,1087 C644.7,1092 647.5,1096 650,1099.5 C648.5,1104 648.5,1110 650,1116 C653,1124 661,1128.6 670,1128.6 C679,1128.6 687,1124 690,1116 C691.5,1110 691.5,1104 690,1099.5 C692.5,1096 695.3,1092 695.5,1087 C695.7,1082 691.5,1077 685,1077 C679,1077 673,1081 670,1088 Z" fill="#d4d4d4" stroke="#404040" stroke-width="1"/>
<circle cx="656.1" cy="1086.1" r="5.6" fill="#000"/>
<circle cx="684.2" cy="1086.1" r="5.6" fill="#000"/>
<circle cx="670" cy="1099.6" r="3.7" fill="#c4c4c4" stroke="#404040" stroke-width="0.8"/>
<ellipse cx="670" cy="1112.8" rx="14" ry="3.3" fill="#c4c4c4" stroke="#404040" stroke-width="0.8"/>
<ellipse cx="692.5" cy="1248.4" rx="9.8" ry="11" fill="#c0c0c0" stroke="#404040" stroke-width="1"/>
<circle cx="664.9" cy="1237.4" r="26.7" fill="#c0c0c0" stroke="#404040" stroke-width="1"/>
<ellipse cx="652" cy="1222" rx="10.4" ry="19" fill="#c0c0c0" stroke="#404040" stroke-width="1" transform="rotate(-4 652 1222)"/>
<circle cx="688.1" cy="1232.9" r="4.8" fill="#000"/>
<ellipse cx="665.7" cy="1334.5" rx="9.6" ry="10.6" fill="#c0c0c0" stroke="#404040" stroke-width="1"/>
<circle cx="636.2" cy="1366.5" r="9.3" fill="#c0c0c0" stroke="#404040" stroke-width="1"/>
<circle cx="695.3" cy="1366.5" r="9.3" fill="#c0c0c0" stroke="#404040" stroke-width="1"/>
<circle cx="666.1" cy="1366.7" r="26.4" fill="#c0c0c0" stroke="#404040" stroke-width="1"/>
<circle cx="653.4" cy="1342.4" r="4.8" fill="#000"/>
<circle cx="676.6" cy="1342.4" r="4.8" fill="#000"/>
</svg>
</body></html>
